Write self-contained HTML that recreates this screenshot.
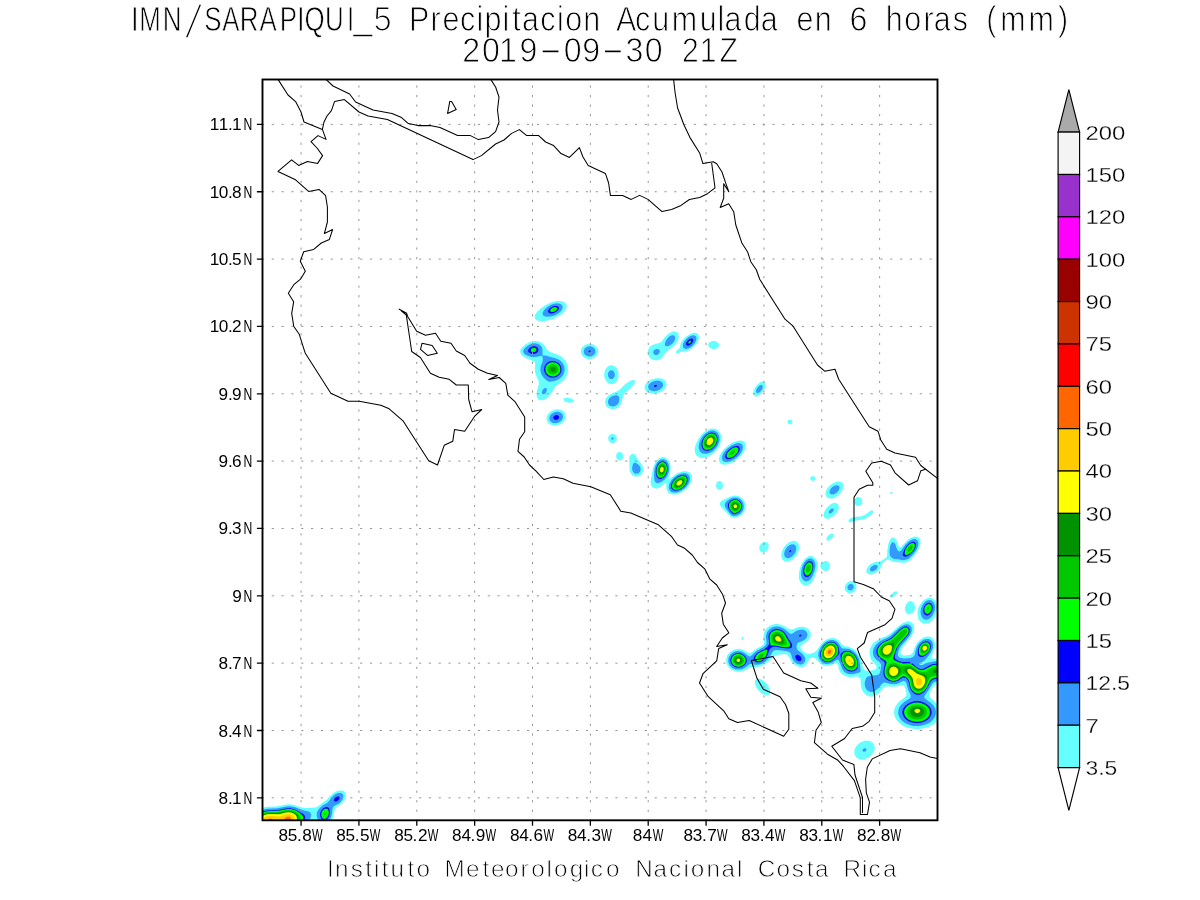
<!DOCTYPE html>
<html lang="es"><head><meta charset="utf-8"><title>IMN/SARAPIQUI_5 Precipitacion Acumulada en 6 horas (mm)</title>
<style>html,body{margin:0;padding:0;background:#fff;}svg{display:block;}text{font-family:"Liberation Sans", sans-serif;}.t1{font-size:35px;fill:#000;stroke:#fff;stroke-width:0.9px;vector-effect:non-scaling-stroke;}.ax{font-size:17.2px;fill:#000;}.cb{font-size:20.4px;fill:#000;stroke:#fff;stroke-width:0.3px;}.ft{font-size:24.3px;fill:#000;stroke:#fff;stroke-width:0.8px;}.coast{fill:none;stroke:#000;stroke-width:1.05;stroke-linejoin:round;stroke-linecap:round;}.grid{fill:none;stroke:#969696;stroke-width:1.0;}</style></head><body>
<svg width="1200" height="900" viewBox="0 0 1200 900">
<rect x="0" y="0" width="1200" height="900" fill="#fff"/>
<defs><clipPath id="plot"><rect x="262.5" y="79.5" width="675" height="740.8"/></clipPath></defs>
<g clip-path="url(#plot)">
<path fill="#66ffff" fill-rule="evenodd" d="M556.8 301.0L559.5 300.9L562.0 301.2L564.0 301.9L565.5 302.9L566.5 304.5L566.8 306.0L566.6 307.5L565.7 309.5L564.2 311.5L562.5 313.3L560.0 315.2L557.5 316.7L554.5 318.2L551.5 319.4L548.5 320.3L545.0 321.0L542.5 321.3L540.0 321.2L538.0 320.8L536.2 320.0L535.2 319.0L534.6 317.5L534.8 316.0L535.6 314.0L537.0 312.0L538.9 310.0L542.0 307.5L545.0 305.4L548.0 303.8L551.5 302.3L554.5 301.4ZM673.4 331.5L675.0 331.5L676.5 331.9L677.7 333.0L678.5 334.5L678.8 336.5L678.6 338.5L677.8 341.0L676.6 343.0L675.4 344.5L673.5 346.3L666.8 351.5L665.5 353.0L663.0 356.6L661.0 358.6L659.5 359.5L657.5 360.2L655.5 360.3L653.5 360.0L651.5 359.1L650.2 358.0L649.0 356.5L648.3 355.0L647.8 353.0L647.9 351.0L648.5 349.0L649.4 347.5L650.8 346.0L652.5 344.9L654.5 344.2L658.5 343.3L660.3 342.5L662.0 340.9L665.0 337.0L667.5 334.5L670.5 332.4L672.0 331.8ZM693.1 333.0L695.0 332.8L696.5 333.1L697.9 334.0L698.8 335.5L699.0 337.5L698.7 339.5L697.9 341.5L696.8 343.5L693.5 347.2L691.5 348.8L689.5 350.0L686.5 351.2L684.5 351.4L682.0 351.3L680.5 351.9L679.0 353.0L677.5 353.5L677.0 353.4L676.3 353.0L675.9 352.0L676.3 351.0L676.6 350.5L678.8 349.0L679.5 348.3L679.8 347.5L680.7 343.5L681.7 341.5L684.1 338.5L687.0 336.0L690.0 334.1ZM534.3 341.0L536.0 341.0L538.0 341.3L540.0 341.9L541.5 342.7L543.0 343.7L544.2 345.0L545.3 346.5L547.0 349.5L548.5 351.1L551.3 352.5L558.0 354.7L561.5 356.8L563.5 358.5L565.5 361.0L566.9 363.5L567.7 366.0L568.0 369.0L567.8 372.0L566.9 375.0L565.7 377.5L564.2 379.5L562.5 381.2L557.0 385.3L555.5 386.6L554.0 388.7L550.8 394.0L548.5 396.8L547.0 398.1L545.5 399.1L544.0 399.9L542.5 400.3L541.0 400.3L539.5 400.0L538.5 399.4L537.5 398.2L536.7 396.0L536.6 393.0L537.2 390.0L538.7 385.0L538.9 382.5L538.4 380.5L536.1 375.5L535.2 372.5L534.9 369.5L535.3 364.5L535.1 363.0L534.6 362.0L533.5 361.2L526.5 358.3L523.3 356.5L522.0 355.5L521.2 354.5L520.3 352.5L520.3 350.5L520.8 349.0L521.9 347.5L523.5 346.0L526.5 343.8L529.0 342.4L532.0 341.3ZM710.9 341.5L713.0 341.0L715.0 341.1L717.0 341.9L718.4 343.0L719.1 344.5L718.9 346.0L718.0 347.4L716.5 348.4L714.5 348.9L712.5 348.9L710.5 348.3L708.8 347.0L708.1 345.5L708.3 344.0L709.3 342.5ZM587.5 344.0L589.5 343.8L591.0 343.9L592.5 344.2L594.2 345.0L595.5 345.9L596.6 347.0L597.6 348.5L598.1 350.0L598.2 351.5L598.0 353.0L597.5 354.5L596.5 356.0L595.4 357.0L594.0 358.0L592.5 358.6L591.0 358.9L589.5 359.1L587.5 358.9L586.0 358.4L584.5 357.7L583.0 356.5L582.1 355.5L581.3 354.0L581.0 353.0L580.8 351.5L581.0 350.0L581.3 349.0L582.1 347.5L583.0 346.4L584.5 345.2L586.0 344.5ZM609.9 365.5L611.0 365.3L612.5 365.4L614.0 365.9L615.0 366.6L616.0 367.5L617.1 369.0L617.8 370.5L618.4 372.5L618.6 374.5L618.5 376.0L618.2 378.0L617.5 379.8L616.5 381.4L615.5 382.5L614.5 383.3L613.0 383.9L611.5 384.1L610.0 383.9L608.5 383.3L607.5 382.6L606.4 381.5L605.5 380.0L604.8 378.5L604.3 376.5L604.2 375.0L604.3 373.0L604.8 371.0L605.4 369.5L606.4 368.0L607.5 366.8L608.5 366.1ZM654.8 378.5L657.0 378.2L659.0 378.2L661.0 378.5L662.5 379.0L664.0 379.8L665.4 381.0L666.0 382.0L666.5 383.5L666.5 385.0L666.1 386.5L665.3 388.0L664.0 389.5L662.5 390.8L660.5 391.9L658.5 392.8L656.5 393.3L654.5 393.6L652.5 393.6L650.5 393.3L648.5 392.7L647.0 391.9L645.6 390.5L645.0 389.5L644.6 388.0L644.7 386.5L645.1 385.0L646.0 383.5L647.4 382.0L649.0 380.8L651.0 379.7ZM632.9 380.0L634.0 380.0L634.7 380.5L634.9 381.0L634.9 382.0L634.4 383.5L633.2 385.5L631.0 388.0L625.2 393.0L623.9 394.5L622.9 396.5L622.0 401.0L621.3 403.0L620.6 404.5L619.5 405.9L618.4 407.0L617.0 407.9L614.5 408.9L613.0 409.1L611.5 409.1L610.0 408.8L608.5 408.1L607.0 407.0L606.2 406.0L605.5 404.5L605.1 403.0L605.2 401.0L605.6 399.5L606.3 398.0L607.4 396.5L609.0 395.0L611.0 393.7L616.5 391.5L618.5 390.5L620.0 389.3L624.3 385.0L626.8 383.0L630.0 381.0L631.5 380.3ZM760.9 382.0L762.0 381.7L763.0 381.6L764.0 381.9L764.5 382.2L765.1 383.0L765.4 384.0L765.3 386.5L764.2 389.5L762.5 392.2L760.0 394.7L757.9 396.0L756.5 396.4L755.5 396.4L754.6 396.0L754.0 395.5L753.4 394.0L753.5 391.5L754.3 389.0L756.1 386.0L758.5 383.5ZM565.0 398.0L567.0 397.8L569.0 398.0L571.0 398.5L572.5 399.2L573.4 400.0L573.9 401.0L573.8 401.5L573.4 402.0L572.0 402.6L570.5 402.8L568.5 402.6L566.5 402.1L565.0 401.4L563.8 400.5L563.4 399.5L563.5 399.0L564.0 398.5ZM555.8 409.5L557.5 409.3L559.5 409.5L561.0 409.9L562.5 410.6L564.0 411.8L564.9 413.0L565.5 414.5L565.8 416.0L565.7 417.5L565.3 419.0L564.5 420.5L563.3 422.0L562.0 423.1L560.0 424.4L558.0 425.1L556.5 425.4L554.5 425.6L552.5 425.3L551.0 424.8L549.5 424.0L548.3 423.0L547.5 422.0L546.9 420.5L546.6 419.0L546.7 417.5L547.1 416.0L547.9 414.5L549.0 413.0L550.5 411.7L552.0 410.8L554.0 409.9ZM788.7 420.0L790.0 419.7L791.0 419.9L792.0 420.5L792.3 421.0L792.5 421.5L792.5 422.5L792.0 423.5L791.3 424.0L790.0 424.3L789.0 424.1L788.0 423.5L787.7 423.0L787.5 422.5L787.5 421.5L788.0 420.5ZM709.7 429.0L712.0 428.6L714.5 428.7L716.5 429.3L718.5 430.7L719.9 432.5L720.8 434.5L721.3 437.0L721.2 440.0L720.7 442.5L719.6 445.5L718.2 448.0L716.4 450.5L714.0 452.9L711.5 454.8L709.0 456.2L706.0 457.4L703.5 457.9L701.5 457.9L699.5 457.5L697.5 456.3L696.3 455.0L695.2 453.0L694.7 450.5L694.8 448.0L695.4 445.5L696.8 442.0L698.7 438.5L700.9 435.5L703.0 433.1L705.0 431.4L707.5 429.9ZM611.6 434.0L613.5 434.0L615.0 434.7L616.2 436.0L616.8 437.5L616.8 439.5L616.2 441.0L615.0 442.4L613.5 443.0L612.5 443.1L611.5 443.0L610.0 442.3L608.8 441.0L608.2 439.5L608.2 437.5L608.8 436.0L610.0 434.7ZM737.0 441.0L739.5 440.6L741.5 440.6L743.0 441.0L744.5 442.0L745.5 443.5L745.8 445.0L745.7 447.0L745.0 449.5L743.8 452.0L742.4 454.0L740.3 456.5L738.0 458.7L735.5 460.6L733.0 462.2L730.5 463.4L727.5 464.3L725.0 464.7L723.0 464.5L721.5 463.9L720.2 463.0L719.3 461.5L719.0 460.0L719.1 458.0L719.8 455.5L720.8 453.5L722.1 451.5L724.2 449.0L726.5 446.9L728.5 445.3L731.5 443.3L734.5 441.8ZM618.9 452.0L620.0 451.9L621.5 452.6L622.7 454.0L623.2 455.5L623.2 457.0L622.7 458.5L622.0 459.5L620.5 460.4L619.0 460.4L618.0 460.0L616.9 459.0L616.4 458.0L616.2 457.0L616.1 455.5L616.6 454.0L617.5 452.8ZM631.9 454.0L633.5 453.9L634.5 454.3L635.5 455.3L638.0 459.8L641.6 464.0L642.9 466.5L643.2 468.0L643.3 469.5L642.9 472.0L642.2 473.5L641.5 474.4L639.6 476.0L638.0 476.6L636.5 476.8L635.0 476.6L633.5 476.0L632.1 475.0L631.2 474.0L630.4 472.5L629.8 471.0L629.5 468.5L629.5 464.0L629.2 459.5L629.2 458.0L629.6 456.5L630.1 455.5L631.0 454.5ZM660.7 457.5L662.0 457.2L663.5 457.1L664.5 457.3L666.0 457.9L668.0 459.6L669.0 461.0L669.7 462.5L670.6 466.0L670.6 469.5L670.2 472.5L668.5 479.0L669.0 479.2L669.5 478.9L674.5 475.2L677.0 473.6L679.5 472.4L682.0 471.6L685.0 471.2L687.5 471.6L689.5 472.5L691.0 474.0L691.7 475.5L692.0 478.0L691.7 480.0L690.9 482.5L689.5 485.0L687.6 487.5L685.5 489.5L682.9 491.5L679.5 493.3L676.0 494.4L674.0 494.5L672.5 494.5L670.0 493.7L668.9 493.0L668.0 492.2L666.8 490.0L666.2 487.0L666.5 483.0L666.0 482.7L660.0 487.1L658.5 487.9L657.0 488.4L655.5 488.5L654.0 488.1L652.5 487.2L651.6 486.0L651.1 485.0L650.7 483.5L650.7 480.5L652.8 469.5L653.7 466.0L655.0 463.0L656.6 460.5L658.5 458.7ZM811.4 476.5L812.5 476.1L813.5 476.2L814.4 476.5L815.0 477.0L815.5 478.0L815.5 479.0L815.0 480.0L814.5 480.4L813.5 480.8L812.5 480.9L811.5 480.5L810.8 480.0L810.3 479.0L810.3 478.0L810.8 477.0ZM718.8 481.0L720.0 480.9L721.5 481.7L722.5 483.0L722.9 484.5L723.0 486.0L722.5 487.8L721.7 489.0L720.5 489.8L719.0 489.9L718.0 489.5L716.9 488.5L716.1 486.5L716.1 484.5L716.5 483.0L717.5 481.7ZM835.7 482.0L837.5 481.6L839.0 481.5L840.5 481.8L841.5 482.2L842.5 483.0L843.1 484.0L843.5 485.5L843.4 487.0L843.0 488.5L842.4 490.0L841.2 492.0L839.9 493.5L838.5 495.0L836.5 496.6L834.5 497.8L833.0 498.4L831.5 498.6L829.5 498.4L828.0 497.9L827.0 497.2L826.0 496.0L825.7 495.0L825.5 494.0L825.6 492.5L826.0 491.0L826.7 489.5L827.6 488.0L829.0 486.3L832.0 483.8L834.0 482.7ZM890.6 492.0L891.5 491.7L892.0 491.9L892.5 492.4L892.5 493.3L892.0 493.9L891.0 494.0L890.4 493.5L890.3 492.5ZM731.9 496.0L734.5 495.5L737.0 495.7L739.0 496.3L741.0 497.4L742.8 499.0L744.2 501.0L745.1 503.5L745.4 505.5L745.4 508.0L744.9 510.0L743.9 512.0L742.4 514.0L740.5 515.6L738.0 516.9L735.5 517.7L733.5 517.8L731.5 517.2L729.3 515.5L721.1 507.0L720.2 505.5L719.8 504.0L720.0 503.0L720.5 502.0L722.8 500.0L729.5 496.9ZM857.5 497.0L859.0 497.0L860.5 497.7L861.7 499.0L862.2 500.5L862.2 502.5L861.7 504.0L860.5 505.3L859.1 506.0L857.5 506.0L856.0 505.3L854.9 504.0L854.4 502.5L854.4 500.5L854.9 499.0L856.0 497.7ZM833.3 503.0L834.5 502.8L836.0 503.0L837.0 503.4L838.0 504.2L838.5 505.0L838.9 506.5L838.6 509.0L837.2 512.0L835.0 514.7L832.0 517.1L829.0 518.4L827.5 518.7L826.5 518.7L825.5 518.4L824.5 517.7L824.0 517.0L823.5 515.5L823.8 513.0L825.2 510.0L827.5 507.0L830.5 504.4L832.0 503.5ZM871.3 510.5L872.5 510.5L873.2 511.0L873.3 512.0L873.0 513.0L871.5 514.7L866.6 518.0L865.0 518.8L863.5 519.2L859.5 520.1L855.0 520.7L852.0 522.1L850.5 522.5L849.0 522.1L848.5 521.5L848.4 521.0L848.5 520.4L849.0 519.5L850.3 518.5L852.0 517.8L856.5 516.8L860.5 516.4L862.0 516.1L866.5 514.0L869.5 511.5ZM831.9 533.5L833.0 533.8L833.5 534.5L833.6 535.5L833.0 537.0L832.0 538.5L831.0 539.4L829.5 540.3L828.5 540.7L827.5 540.6L826.6 540.0L826.4 539.0L826.8 537.5L827.8 536.0L829.0 534.8L830.5 533.9ZM913.0 537.0L915.0 536.6L916.5 536.7L918.0 537.2L919.0 537.9L919.8 539.0L920.4 540.5L920.5 542.0L920.5 543.5L919.6 547.0L917.7 551.0L913.8 556.5L912.0 558.6L910.5 560.0L908.5 561.3L906.5 562.2L904.5 562.6L902.5 562.7L893.5 561.8L892.0 561.3L889.0 559.7L888.0 559.5L887.0 559.7L882.5 563.0L881.9 564.0L881.2 566.5L880.3 568.5L878.7 570.5L877.0 572.0L874.5 573.4L872.0 574.3L870.0 574.5L868.1 574.0L867.3 573.5L866.6 572.5L866.3 571.5L866.3 570.5L866.7 569.0L867.2 568.0L868.2 566.5L869.5 565.1L872.0 563.3L874.5 562.2L876.5 561.7L879.5 561.5L881.0 561.2L884.0 559.0L885.8 558.0L886.5 557.3L886.9 556.5L887.1 555.5L887.3 550.5L888.3 544.0L889.5 540.5L891.0 538.4L892.0 537.7L893.0 537.5L894.0 537.7L895.0 538.4L896.0 539.6L896.8 541.0L898.5 546.0L899.2 547.0L900.0 547.4L900.5 547.3L901.5 546.7L905.6 542.0L908.0 539.8L910.5 538.1ZM792.8 541.0L794.5 541.0L796.0 541.4L797.0 542.1L798.0 543.2L798.7 544.5L799.0 546.0L799.1 548.0L798.8 550.0L798.1 552.0L797.2 554.0L795.9 556.0L794.6 557.5L793.0 558.9L791.5 560.0L790.0 560.8L788.0 561.4L786.5 561.5L785.0 561.2L783.5 560.4L782.5 559.4L781.8 558.0L781.4 556.5L781.3 554.5L781.6 552.5L782.2 550.5L783.2 548.5L784.5 546.5L786.0 544.7L787.5 543.4L789.5 542.1L791.0 541.4ZM764.0 542.0L765.0 541.9L766.0 542.0L767.5 542.9L768.5 544.5L768.7 546.0L768.4 548.0L767.4 550.0L765.9 551.5L764.0 552.4L763.0 552.5L762.0 552.4L760.5 551.5L759.6 550.0L759.3 548.5L759.5 546.5L760.5 544.5L762.0 542.9ZM809.9 556.0L811.0 555.9L812.5 556.2L813.9 557.0L815.0 558.0L816.3 560.0L817.3 562.0L817.9 564.0L818.1 566.0L817.8 567.5L815.1 575.5L813.3 580.0L812.0 582.0L810.6 583.5L809.0 584.6L807.5 585.2L805.5 585.5L804.0 585.2L802.5 584.5L800.9 583.0L799.7 581.0L799.1 579.0L798.8 576.5L798.9 574.0L799.3 571.0L800.2 567.5L801.3 564.5L802.6 562.0L804.4 559.5L806.0 557.9L808.0 556.6ZM825.1 561.0L827.0 561.3L828.5 562.3L829.6 564.0L830.0 566.0L829.6 568.0L828.7 569.5L827.5 570.5L826.5 570.9L825.5 571.0L823.5 570.6L822.0 569.6L820.8 568.0L820.2 566.0L820.3 565.0L820.8 564.0L821.9 562.5L823.5 561.4ZM849.3 581.5L851.5 581.1L853.5 581.5L854.5 582.1L855.4 583.0L856.4 585.0L856.5 586.0L856.4 587.5L855.8 589.5L854.2 591.5L853.0 592.4L852.0 592.9L851.0 593.2L849.5 593.3L847.5 592.8L845.9 591.5L845.2 590.5L844.8 589.5L844.7 588.5L844.7 587.0L845.5 584.8L847.0 582.9L848.0 582.1ZM895.1 591.5L896.5 591.2L897.2 591.5L897.4 592.0L897.4 592.5L897.0 593.5L896.0 594.8L894.7 596.0L893.5 596.8L892.0 597.5L891.0 597.6L890.5 597.4L890.2 597.0L890.2 596.5L890.5 595.5L891.2 594.5L892.5 593.2L894.0 592.1ZM927.9 598.0L929.5 597.8L931.5 598.0L933.0 598.7L934.6 600.0L935.7 601.5L936.5 603.5L936.9 605.5L937.0 608.0L936.7 610.5L936.0 613.5L934.8 616.5L933.7 618.5L932.2 620.5L930.5 622.0L929.0 622.9L927.0 623.5L925.0 623.7L923.0 623.2L921.0 622.2L919.7 621.0L918.7 619.5L918.1 617.5L917.7 615.0L917.5 612.0L917.7 610.0L918.3 608.0L919.3 606.0L921.2 603.0L922.9 601.0L924.5 599.6L926.0 598.7ZM908.8 601.5L910.0 601.1L911.0 601.1L912.0 601.5L912.8 602.0L913.5 602.8L914.2 604.0L914.9 606.5L914.9 608.5L914.3 610.5L912.8 612.5L912.0 613.2L910.7 614.0L909.0 614.4L908.0 614.2L907.0 613.6L905.7 612.0L905.0 610.0L905.0 607.5L905.7 605.0L907.0 602.9L908.0 602.0ZM905.9 622.0L907.5 621.6L909.5 621.6L911.0 622.1L912.4 623.0L913.2 624.0L913.8 625.5L914.1 627.5L913.9 629.5L913.5 631.5L912.8 633.5L911.1 636.5L908.1 640.5L903.0 646.4L901.5 648.6L900.8 650.5L900.5 652.0L900.7 653.5L901.4 654.5L903.0 655.3L905.5 655.5L909.0 655.1L911.0 654.4L912.1 653.5L913.0 652.1L914.8 647.0L916.1 644.5L917.8 642.0L919.5 640.3L922.0 638.4L924.5 637.1L926.0 636.7L927.5 636.5L930.0 636.8L932.0 637.8L933.7 639.5L934.6 641.5L935.1 644.0L935.0 646.0L934.7 648.0L933.7 651.0L931.5 656.0L931.3 657.0L931.5 657.7L932.0 658.2L933.0 658.5L939.0 658.8L942.0 659.2L944.5 659.8L946.5 660.7L949.0 662.2L950.8 664.0L952.0 666.0L952.7 668.0L952.8 670.0L952.3 672.5L951.1 675.0L949.5 677.0L947.5 678.8L945.0 680.4L942.0 681.8L937.0 683.5L934.5 685.0L933.5 686.1L932.5 687.5L929.6 693.0L929.0 695.0L929.2 696.5L930.4 698.0L935.5 702.3L937.7 705.0L938.6 706.5L939.4 708.5L939.9 710.5L940.0 712.5L939.7 715.0L939.1 717.0L938.1 719.0L936.7 721.0L935.0 722.8L933.0 724.4L931.0 725.6L928.5 726.9L924.0 728.3L919.5 729.0L915.0 729.0L910.0 728.3L905.5 726.9L901.5 724.7L898.2 722.0L895.9 719.0L894.6 716.0L894.0 713.0L894.2 710.0L895.2 707.0L896.3 705.0L898.0 702.8L900.0 700.9L905.0 697.1L905.9 696.0L906.4 695.0L906.4 693.0L905.5 689.3L904.5 686.5L903.5 685.2L902.5 684.9L901.5 685.0L897.5 686.2L894.5 686.7L892.0 686.8L887.5 686.3L885.5 686.5L884.5 687.0L883.5 687.8L879.0 692.9L877.5 694.2L876.0 695.2L874.5 695.9L872.5 696.4L870.5 696.5L869.0 696.2L867.0 695.4L865.1 694.0L863.7 692.5L862.4 690.5L861.6 688.5L861.0 686.0L860.5 679.0L860.1 678.0L859.6 677.5L858.5 676.9L857.0 676.6L851.5 677.1L848.5 676.9L845.5 676.0L843.0 674.7L841.0 673.0L839.6 671.0L838.9 669.0L838.1 665.0L837.5 663.8L837.0 663.3L836.5 663.1L835.5 663.2L832.0 664.8L829.0 665.7L826.5 665.9L824.5 665.6L822.5 664.9L820.5 663.7L815.5 658.7L814.0 658.0L812.5 657.8L811.0 658.0L810.0 658.5L809.0 659.8L808.0 661.9L806.4 664.5L805.5 665.5L804.0 666.4L802.5 666.9L801.0 667.0L799.5 666.9L798.0 666.5L795.5 665.3L794.0 664.3L792.7 663.0L791.1 661.0L788.5 656.3L787.5 655.1L786.5 654.5L785.5 654.1L783.0 653.9L777.5 655.1L774.5 656.1L772.0 657.8L768.0 661.7L765.5 663.7L762.0 665.7L759.0 666.8L756.0 667.3L752.0 667.3L750.5 667.5L749.0 668.0L745.5 669.9L743.5 670.7L741.5 671.3L739.0 671.5L736.5 671.4L734.0 670.8L731.5 669.6L729.4 668.0L728.1 666.5L727.0 664.5L726.3 662.5L726.1 660.5L726.3 658.5L726.8 656.5L727.9 654.5L729.0 653.0L731.0 651.3L733.0 650.2L736.0 649.3L738.5 649.1L740.5 649.3L742.5 649.8L744.5 650.6L748.0 652.6L749.0 652.9L750.0 652.9L751.5 652.4L756.5 648.8L761.7 646.0L763.4 644.5L764.0 643.0L764.0 641.5L763.5 638.0L763.4 636.0L763.8 633.5L764.5 631.5L765.7 629.5L767.5 627.5L769.5 626.1L771.5 625.1L773.5 624.4L775.5 624.1L778.0 624.1L780.0 624.4L783.5 625.7L789.0 629.0L791.0 629.6L793.0 629.2L798.0 627.3L801.0 626.8L803.0 626.8L805.0 627.2L806.5 627.8L808.0 628.7L809.7 630.5L810.6 632.5L810.8 635.0L810.1 637.5L808.9 639.5L807.6 641.0L805.5 642.6L801.6 645.0L800.7 646.0L800.4 647.0L800.7 648.5L801.3 649.5L802.2 650.5L805.0 652.7L807.5 653.9L808.5 654.1L809.5 653.9L814.5 652.2L815.5 651.6L817.0 650.1L820.1 645.5L822.0 643.1L824.0 641.2L826.5 639.5L829.0 638.5L831.5 638.0L834.0 638.1L836.0 638.7L837.5 639.6L838.7 640.5L842.0 644.5L843.0 645.3L844.5 646.0L848.5 646.8L851.0 647.7L853.5 649.1L856.0 651.3L858.2 654.0L860.2 657.5L861.3 660.5L862.5 666.2L863.5 668.4L864.5 669.6L865.5 670.4L866.5 670.8L868.0 671.1L871.7 670.5L874.5 669.8L875.8 669.0L876.2 668.5L876.5 667.5L876.5 666.5L876.1 665.5L873.0 662.1L871.4 660.0L870.5 658.0L869.8 655.5L869.5 652.5L869.9 649.5L870.7 647.0L872.2 644.5L874.6 642.0L878.0 639.7L881.5 637.9L887.0 635.7L889.1 634.5L891.0 633.0L896.5 627.9L899.5 625.4L903.0 623.1ZM741.9 637.0L742.5 636.7L743.0 636.9L743.3 637.5L743.5 638.5L743.1 639.5L742.5 639.9L742.0 639.7L741.6 639.0L741.5 638.0ZM756.6 679.0L757.5 678.7L759.0 678.7L761.5 679.5L764.5 681.5L767.3 684.5L768.3 686.0L769.3 688.0L770.1 691.0L770.0 692.5L769.8 693.5L769.1 694.5L768.4 695.0L767.5 695.3L766.0 695.3L763.5 694.5L760.5 692.5L757.7 689.5L756.7 688.0L755.7 686.0L754.9 683.0L755.0 681.5L755.2 680.5L755.9 679.5ZM864.0 741.0L866.0 740.6L868.0 740.7L870.0 741.1L871.5 741.8L873.0 743.0L873.7 744.0L874.4 745.5L874.7 747.5L874.7 749.0L874.1 751.0L873.2 753.0L872.1 754.5L870.6 756.0L869.0 757.2L867.0 758.3L865.0 759.0L863.0 759.4L861.0 759.3L859.0 758.9L857.5 758.2L856.0 757.0L855.3 756.0L854.6 754.5L854.3 752.5L854.3 751.0L854.9 749.0L855.8 747.0L856.9 745.5L858.4 744.0L860.0 742.8L862.0 741.7ZM339.5 790.5L341.5 790.5L343.0 790.8L344.2 791.5L345.1 792.5L345.7 793.5L346.0 795.0L345.9 796.5L345.4 798.5L344.3 800.5L342.3 803.0L340.5 804.6L336.5 807.4L335.4 808.5L334.5 810.5L333.2 816.5L331.8 820.0L330.8 821.5L329.5 823.0L328.0 824.3L326.5 825.2L324.5 825.8L322.0 825.7L320.0 824.9L316.0 822.7L314.5 822.4L313.0 822.6L311.5 823.0L310.0 823.7L304.5 827.3L298.0 830.9L294.5 832.2L290.5 832.9L287.0 833.0L279.0 832.5L271.0 832.8L267.5 832.7L262.0 831.9L258.0 830.6L254.5 828.7L252.8 827.5L251.5 826.2L250.5 825.0L249.6 823.5L249.0 822.0L248.8 820.5L248.8 819.0L249.1 817.5L249.7 816.0L250.6 814.5L253.0 812.0L256.5 809.7L260.0 808.3L264.5 807.2L268.0 806.8L276.5 806.4L285.0 804.7L288.5 804.3L291.0 804.4L294.0 804.9L301.0 807.2L303.5 807.8L307.0 807.9L315.0 807.6L316.5 807.1L318.0 806.2L325.5 800.8L327.5 799.0L331.1 795.0L333.5 793.0L336.5 791.3Z"/>
<path fill="#3399ff" fill-rule="evenodd" d="M555.2 303.5L557.0 303.3L558.5 303.4L560.0 303.7L561.0 304.2L561.9 305.0L562.5 306.0L562.7 307.0L562.4 308.5L561.7 310.0L561.0 311.0L559.5 312.4L558.0 313.6L554.5 315.4L550.5 316.5L547.0 316.8L545.5 316.6L544.0 316.1L543.3 315.5L542.7 314.5L542.6 313.5L542.8 312.5L543.5 311.0L544.6 309.5L547.5 306.8L551.0 304.8L553.0 304.0ZM671.1 335.5L673.0 335.2L674.0 335.5L674.5 335.9L674.9 336.5L675.2 337.5L675.0 339.5L674.1 341.5L672.5 343.5L670.5 345.0L668.5 345.9L666.5 346.2L665.5 345.9L664.9 345.0L665.0 343.0L666.0 340.5L667.3 338.5L669.0 336.7ZM691.9 335.5L693.5 335.3L694.5 335.5L695.5 336.0L696.0 336.5L696.4 337.5L696.5 338.2L696.2 340.5L694.9 343.0L692.8 345.5L690.5 347.4L688.0 348.6L686.5 348.9L685.5 348.9L684.5 348.6L683.6 348.0L682.9 346.5L682.8 345.5L683.1 344.0L684.2 341.5L686.5 338.7L689.0 336.8L690.5 336.0ZM532.8 343.5L535.0 343.3L537.5 343.7L539.5 344.7L541.0 346.0L541.9 347.5L542.4 349.0L542.5 350.5L542.5 355.0L543.0 355.4L546.0 355.6L550.5 357.1L555.5 358.2L557.5 358.9L559.5 360.0L561.0 361.2L562.5 362.9L563.5 364.5L564.4 367.0L564.6 370.0L564.0 373.0L562.7 375.5L561.0 377.5L558.5 379.3L555.5 380.7L552.0 381.6L550.5 381.8L549.0 381.7L547.0 380.8L545.0 379.1L543.5 377.4L542.1 375.5L541.1 373.5L540.5 371.0L540.4 368.5L540.8 366.0L542.4 362.0L542.8 360.5L542.8 359.0L542.3 356.0L542.0 355.7L541.5 355.7L537.0 356.8L535.0 357.1L531.5 356.9L528.5 356.1L526.0 355.0L524.5 353.9L523.5 352.6L523.2 351.5L523.3 350.5L523.8 349.5L525.0 348.0L527.0 346.3L529.0 344.9L531.0 344.0ZM587.7 346.5L590.0 346.2L591.5 346.5L592.5 346.9L594.0 348.0L594.8 349.0L595.2 350.0L595.4 352.0L595.2 353.0L594.7 354.0L594.0 354.8L593.0 355.6L591.0 356.4L589.0 356.6L586.8 356.0L585.0 354.7L583.9 353.0L583.7 351.0L584.4 349.0L585.7 347.5ZM655.1 349.5L656.5 349.1L657.5 349.1L659.0 349.5L659.6 350.0L659.9 351.0L659.5 352.5L658.5 354.0L657.5 354.7L656.5 355.0L655.5 355.0L654.4 354.5L653.5 353.5L653.2 352.5L653.5 351.0L654.0 350.3ZM610.2 370.5L611.5 370.2L612.6 370.5L613.8 371.5L614.6 373.0L614.8 375.0L614.6 376.5L613.7 378.0L612.4 379.0L611.0 379.2L609.6 378.5L608.7 377.5L608.1 376.0L608.0 374.0L608.4 372.5L609.0 371.5ZM654.4 381.0L657.5 380.6L660.0 381.1L661.0 381.5L662.0 382.3L662.6 383.0L663.0 384.0L663.1 385.0L662.9 386.0L662.4 387.0L661.7 388.0L659.5 389.7L657.0 390.8L654.0 391.2L651.5 390.8L649.5 389.8L648.8 389.0L648.3 388.0L648.1 387.0L648.2 386.0L648.6 385.0L649.3 384.0L651.5 382.2ZM760.7 385.0L761.5 384.9L762.4 385.5L762.7 386.5L762.6 388.0L761.9 389.5L760.9 391.0L759.5 392.3L758.1 393.0L757.0 393.0L756.4 392.5L756.1 391.5L756.2 390.0L756.9 388.5L758.0 386.9L759.5 385.5ZM544.9 388.0L546.0 387.9L546.5 388.3L546.9 389.5L546.9 390.5L546.0 392.6L545.0 393.7L544.0 394.2L543.0 394.3L542.4 394.0L541.9 393.0L541.9 392.0L542.4 390.5L543.0 389.5L544.0 388.5ZM613.6 395.5L616.0 395.2L617.0 395.3L618.0 395.7L618.5 396.1L619.0 397.0L619.3 398.0L619.4 399.5L618.9 402.0L617.8 404.0L616.0 405.6L615.0 406.0L613.5 406.4L611.5 406.3L610.5 406.0L609.5 405.4L608.4 404.0L607.9 402.0L608.3 400.0L609.5 398.0L611.5 396.4ZM555.1 412.0L556.5 411.8L558.0 411.8L560.4 412.5L561.5 413.3L562.2 414.0L562.7 415.0L563.0 416.0L563.0 417.0L562.7 418.5L561.5 420.4L559.5 422.1L557.1 423.0L554.5 423.2L553.0 422.9L552.0 422.5L551.0 421.8L550.3 421.0L549.7 420.0L549.4 419.0L549.4 418.0L549.7 416.5L550.9 414.5L553.0 412.9ZM709.6 431.0L711.5 430.6L713.5 430.6L715.5 431.3L717.0 432.3L718.0 433.5L719.0 435.5L719.4 437.5L719.5 439.5L719.2 441.5L718.3 444.0L717.3 446.0L715.9 448.0L714.5 449.6L712.5 451.2L710.0 452.7L708.0 453.5L706.0 453.8L704.0 453.8L702.5 453.4L701.0 452.5L700.0 451.5L699.2 450.0L698.7 448.0L698.7 446.0L699.1 443.5L699.7 441.5L700.9 439.0L702.4 436.5L704.2 434.5L706.0 432.9L708.0 431.7ZM611.8 437.5L612.5 437.3L613.0 437.4L613.5 437.8L613.7 438.5L613.6 439.0L613.2 439.5L612.5 439.7L612.0 439.6L611.5 439.2L611.3 438.5L611.4 438.0ZM735.9 443.5L738.0 443.1L739.5 443.2L741.0 443.6L742.1 444.5L742.7 445.5L743.0 447.0L742.8 448.5L742.2 450.5L741.1 452.5L740.1 454.0L738.3 456.0L736.5 457.7L734.5 459.1L732.5 460.3L730.5 461.2L728.5 461.8L727.0 462.1L725.4 462.0L724.0 461.6L723.0 460.9L722.4 460.0L722.0 458.5L722.0 457.0L722.6 455.0L723.3 453.5L724.6 451.5L726.4 449.5L728.0 447.9L730.0 446.4L732.0 445.1L734.0 444.2ZM660.9 459.5L662.5 459.2L664.0 459.3L665.5 459.9L666.5 460.7L667.5 462.0L668.5 464.0L669.0 466.0L669.2 468.0L669.1 470.0L668.7 472.0L668.1 474.0L667.2 476.0L666.0 477.8L664.5 479.5L663.0 480.8L661.2 482.0L659.5 482.8L658.0 483.2L656.5 483.0L655.5 482.3L654.9 481.5L654.4 480.0L654.0 475.0L654.4 469.5L654.8 467.5L655.7 465.0L656.8 463.0L658.0 461.5L659.5 460.2ZM633.8 463.0L634.5 462.6L635.0 462.7L636.5 463.3L638.5 464.7L640.0 466.6L640.5 468.0L640.6 470.0L640.0 471.7L638.8 473.0L638.0 473.5L637.0 473.8L635.5 473.7L634.0 472.9L632.6 471.0L632.1 469.0L632.2 467.0L633.0 464.2ZM681.6 473.5L683.5 473.2L685.5 473.3L687.0 473.8L688.2 474.5L689.1 475.5L689.7 477.0L689.9 478.5L689.7 480.5L689.0 482.5L687.9 484.5L686.4 486.5L685.0 488.0L683.0 489.6L681.0 490.8L679.0 491.8L676.5 492.5L674.5 492.6L673.0 492.4L671.5 491.9L670.3 491.0L669.3 489.5L668.8 488.0L668.8 486.5L669.2 484.5L669.7 483.0L670.9 481.0L672.1 479.5L674.0 477.6L677.5 475.1L679.5 474.2ZM835.0 485.5L837.0 485.2L838.3 485.5L839.3 486.5L839.5 488.0L839.0 489.7L837.8 491.5L836.0 493.2L834.0 494.2L832.0 494.5L830.5 494.1L829.6 493.0L829.5 491.5L830.0 489.9L831.3 488.0L833.0 486.5ZM733.6 497.5L735.5 497.4L737.5 497.7L739.0 498.3L740.5 499.2L741.7 500.5L742.7 502.0L743.3 503.5L743.7 505.5L743.7 507.5L743.4 509.0L742.8 510.5L741.8 512.0L740.5 513.4L739.0 514.4L736.5 515.7L735.0 516.1L733.5 516.1L732.5 515.8L731.5 515.2L730.2 514.0L726.3 509.0L725.2 507.0L724.8 505.0L724.9 504.0L725.3 503.0L726.4 501.5L727.5 500.5L730.5 498.6L732.0 497.9ZM832.1 508.5L833.0 508.5L833.5 508.9L833.7 509.5L833.6 510.5L833.0 511.5L832.0 512.6L831.0 513.2L830.0 513.5L829.5 513.5L828.9 513.0L828.7 512.0L829.0 511.1L830.3 509.5L831.0 508.9ZM912.0 539.5L913.5 539.1L915.0 539.1L916.0 539.3L917.0 539.9L917.8 541.0L918.2 542.0L918.3 544.5L917.6 547.5L915.8 551.0L913.0 554.6L910.0 557.6L908.5 558.7L906.5 559.6L905.0 560.0L903.0 560.2L898.0 559.2L894.0 558.9L892.5 558.3L890.9 557.0L890.2 556.0L889.8 554.5L889.5 552.5L889.6 550.0L890.0 547.0L890.5 545.0L891.2 543.5L892.0 542.5L892.5 542.2L893.5 542.2L894.5 543.0L895.5 544.8L896.7 548.5L897.5 550.2L898.5 551.2L899.5 551.4L900.5 550.9L901.5 550.0L905.1 545.0L907.5 542.4L909.5 540.8ZM790.9 544.5L793.0 544.3L794.0 544.5L795.0 545.1L795.7 546.0L796.1 547.0L796.2 548.0L796.2 549.5L795.5 552.0L794.0 554.5L792.0 556.5L789.5 557.9L787.5 558.2L786.5 557.9L785.5 557.3L784.8 556.5L784.4 555.5L784.2 554.5L784.2 553.0L784.9 550.5L786.5 547.8L788.5 545.8ZM809.4 558.5L810.5 558.4L812.0 558.8L813.0 559.4L814.0 560.5L814.7 562.0L815.2 563.5L815.4 565.0L815.3 567.0L814.3 571.5L813.4 574.0L812.2 576.5L811.0 578.4L810.0 579.5L809.0 580.4L807.5 581.1L806.0 581.4L804.5 581.0L803.5 580.3L802.5 579.2L801.7 577.5L801.3 576.0L801.1 574.0L801.2 572.0L801.5 569.5L802.1 567.0L802.9 565.0L804.0 563.0L805.0 561.5L806.5 560.0L808.0 559.0ZM874.4 565.0L876.0 564.8L877.0 565.2L877.6 566.0L877.7 567.0L877.0 568.5L876.1 569.5L875.0 570.4L873.5 571.1L872.0 571.4L871.0 571.2L870.1 570.5L869.9 569.5L870.4 568.0L871.2 567.0L872.5 565.9ZM850.6 584.0L852.0 584.1L853.0 584.8L853.7 586.0L853.7 587.0L853.3 588.5L852.5 589.5L851.5 590.1L850.5 590.4L849.0 590.2L848.1 589.5L847.6 588.5L847.4 587.5L847.8 586.0L848.5 585.1L849.5 584.3ZM927.3 600.5L928.5 600.2L930.0 600.1L931.5 600.6L932.5 601.2L933.5 602.2L934.2 603.5L934.7 605.0L935.0 607.0L934.9 609.0L934.5 611.0L933.0 614.6L931.8 616.5L930.5 617.8L929.5 618.6L928.0 619.4L926.5 619.7L925.5 619.7L924.0 619.2L923.0 618.5L922.0 617.3L921.4 616.0L920.9 614.5L920.6 612.5L920.7 610.5L921.0 608.5L921.7 606.5L922.4 605.0L923.4 603.5L924.5 602.3L926.0 601.1ZM905.1 624.5L906.5 624.3L908.0 624.4L909.0 624.8L910.2 625.5L911.0 626.5L911.6 628.0L911.8 629.5L911.7 631.0L910.9 633.5L909.5 636.0L906.3 640.0L901.0 645.9L899.4 648.5L898.4 651.0L897.9 654.0L898.0 655.5L898.5 656.5L899.0 657.0L900.0 657.7L901.0 658.1L904.0 658.4L910.5 657.9L912.0 657.6L913.0 657.1L914.0 656.1L914.6 655.0L915.9 649.5L916.8 647.0L917.8 645.0L919.3 643.0L921.5 641.0L924.0 639.5L926.5 638.9L928.5 639.0L930.0 639.5L931.0 640.2L932.0 641.4L932.6 642.5L932.9 644.0L933.0 646.0L932.9 647.5L932.3 649.5L931.4 651.5L930.3 653.5L927.0 657.8L924.0 660.9L922.5 661.8L919.7 663.0L919.2 663.5L919.1 664.0L919.4 664.5L920.0 665.0L921.5 665.1L922.5 664.9L926.0 663.2L930.5 661.9L935.5 661.2L939.5 661.3L943.0 662.1L945.9 663.5L948.1 665.5L948.7 666.5L949.3 668.0L949.6 670.0L949.2 672.0L948.3 674.0L947.2 675.5L945.5 677.1L943.0 678.7L940.5 679.8L935.5 681.5L934.0 682.3L933.0 683.0L931.5 684.9L928.9 689.5L925.0 695.0L924.3 696.5L924.3 697.5L925.0 698.6L926.1 699.5L930.5 702.6L933.0 704.9L934.5 707.0L935.4 709.0L935.9 711.5L935.7 714.5L934.5 717.5L932.7 720.0L931.1 721.5L929.5 722.7L927.5 723.8L925.5 724.6L921.0 725.8L918.5 726.1L916.0 726.1L913.5 725.9L911.0 725.4L908.5 724.6L906.5 723.8L904.5 722.7L902.9 721.5L901.3 720.0L900.1 718.5L898.8 716.0L898.1 713.0L898.4 710.0L899.3 707.5L900.5 705.5L902.0 703.9L904.5 701.8L909.6 698.5L910.5 697.5L910.8 696.5L910.6 695.0L908.1 689.5L906.3 683.0L905.5 681.7L904.5 681.0L903.0 681.0L898.0 683.4L896.5 683.9L894.5 684.3L891.0 684.1L885.5 682.7L884.5 682.6L883.5 682.8L882.0 683.8L878.5 687.9L876.5 689.8L874.5 691.2L872.5 691.9L871.0 692.0L870.0 691.8L868.0 690.9L867.0 690.0L866.2 689.0L865.0 686.5L864.7 684.5L864.8 682.0L865.5 679.4L866.6 677.5L868.0 676.5L870.0 675.8L872.0 675.4L876.5 675.2L878.0 674.8L879.0 674.1L879.5 673.4L880.5 670.8L881.2 666.5L881.2 665.0L880.9 664.0L879.8 662.5L876.5 659.8L875.0 658.3L873.8 656.5L873.1 654.5L872.9 652.5L873.1 650.5L873.6 648.5L874.7 646.5L876.6 644.0L879.0 641.9L882.0 640.1L887.8 637.5L889.6 636.5L891.5 635.0L900.0 627.1L902.5 625.5ZM773.5 627.0L775.5 626.6L777.5 626.5L779.5 626.8L781.5 627.4L784.5 629.1L789.5 633.3L791.0 633.9L792.5 633.5L797.0 630.6L800.0 629.7L802.0 629.6L803.5 629.8L805.0 630.5L806.2 631.5L807.2 633.0L807.5 634.5L807.1 636.5L806.4 638.0L805.0 639.5L803.5 640.5L798.6 642.5L797.8 643.0L797.0 644.0L796.6 646.0L796.7 648.0L797.2 649.5L798.1 650.5L802.0 653.6L803.9 655.5L805.0 657.5L805.2 658.5L805.3 660.0L804.9 661.5L804.4 662.5L803.5 663.5L802.5 664.1L801.5 664.4L800.0 664.5L797.5 663.9L795.2 662.5L793.4 660.5L792.1 658.0L791.0 653.9L790.0 652.5L789.0 651.9L787.0 651.2L782.0 650.4L776.0 650.0L774.0 650.5L772.9 651.5L769.5 657.0L767.5 659.5L765.5 661.4L763.5 662.8L761.5 663.8L759.0 664.6L757.0 664.8L755.0 664.7L751.5 663.8L750.0 663.9L749.0 664.4L745.9 667.0L744.0 668.2L741.5 669.2L739.0 669.6L736.5 669.4L734.5 668.9L732.5 667.9L730.8 666.5L729.6 665.0L728.6 663.0L728.2 661.0L728.3 659.0L729.1 656.5L730.4 654.5L732.5 652.7L734.5 651.7L736.0 651.3L738.0 651.0L740.0 651.2L741.5 651.5L744.5 652.9L748.5 656.0L749.5 656.4L750.0 656.4L751.5 655.6L754.7 652.5L756.6 651.0L763.7 647.0L765.5 645.4L766.5 643.5L766.6 642.0L766.0 638.5L765.9 636.5L766.2 634.5L766.9 632.5L768.0 630.7L769.5 629.2L771.5 627.8ZM830.5 640.0L832.0 639.9L833.5 640.1L835.0 640.5L836.5 641.3L838.3 643.0L841.0 647.3L842.0 648.2L843.0 648.6L848.0 648.8L850.0 649.3L852.0 650.3L854.0 651.8L855.7 653.5L857.2 655.5L858.3 657.5L859.3 660.0L859.9 663.0L860.6 670.5L860.4 671.5L860.1 672.0L858.5 672.8L854.0 673.9L851.5 674.2L848.5 674.0L846.0 673.0L844.0 671.5L842.8 670.0L841.8 668.0L839.5 661.7L838.8 660.5L838.0 659.7L837.5 659.7L836.5 659.9L832.5 662.4L830.5 663.3L828.5 663.8L826.0 663.9L823.5 663.2L821.7 662.0L819.9 660.0L818.8 658.0L818.1 655.5L818.3 653.0L819.6 649.5L821.3 646.5L823.3 644.0L825.5 642.1L828.0 640.7ZM863.8 748.5L864.5 748.2L865.5 748.2L866.0 748.5L866.4 749.0L866.5 749.5L866.2 750.5L865.2 751.5L864.5 751.8L863.5 751.8L863.0 751.5L862.6 751.0L862.5 750.5L862.8 749.5ZM338.3 793.0L339.5 792.9L341.0 793.1L342.0 793.6L342.9 794.5L343.3 795.5L343.3 797.0L343.1 798.0L342.5 799.5L341.0 801.5L339.5 802.9L338.0 803.9L334.5 805.8L333.2 807.0L332.5 808.8L332.0 813.5L331.4 816.0L330.4 818.5L329.0 820.5L327.5 821.9L326.0 822.8L324.0 823.2L322.5 823.0L321.0 822.4L319.5 821.2L318.1 819.5L317.2 818.0L316.8 816.5L316.6 814.5L316.7 813.0L317.3 811.5L318.9 809.0L321.5 806.5L323.0 805.3L327.0 803.0L328.3 802.0L331.6 797.5L333.5 795.5L336.0 793.8ZM286.3 806.5L289.5 806.3L293.0 806.7L296.0 807.6L302.0 810.0L307.5 811.3L309.0 811.8L310.2 812.5L310.9 813.5L311.2 815.0L310.9 817.0L310.2 818.5L309.2 820.0L306.0 823.2L299.5 827.7L295.5 829.7L292.5 830.6L289.0 831.1L277.5 830.6L271.0 831.0L266.5 830.8L262.0 829.9L258.0 828.3L256.0 827.1L254.7 826.0L253.7 825.0L252.7 823.5L252.0 822.0L251.7 820.5L251.7 819.0L252.0 817.5L253.4 815.0L255.4 813.0L258.0 811.3L261.5 809.9L264.0 809.2L267.0 808.8L277.5 808.2Z"/>
<path fill="#0000ff" fill-rule="evenodd" d="M554.3 306.0L556.5 305.9L558.0 306.4L558.8 307.5L558.9 308.5L558.2 310.0L557.0 311.2L555.0 312.5L553.0 313.2L551.0 313.4L549.2 313.0L548.6 312.5L548.2 312.0L548.1 311.0L548.7 309.5L550.1 308.0L552.0 306.8ZM689.9 339.0L691.5 338.5L692.5 338.7L693.2 339.5L693.2 340.5L692.8 342.0L692.0 343.2L691.0 344.2L689.5 345.2L688.0 345.7L687.0 345.5L686.4 345.0L686.1 344.0L686.5 342.5L687.4 341.0L688.5 339.9ZM532.3 346.5L534.0 346.2L536.0 346.5L537.6 347.5L538.4 349.0L538.4 350.5L537.7 352.0L536.5 353.0L534.5 353.8L532.5 353.9L530.9 353.5L529.1 352.5L528.3 351.5L528.2 350.5L528.8 349.0L530.3 347.5ZM589.5 350.5L590.0 350.6L590.5 351.0L590.6 351.5L590.3 352.0L589.5 352.3L588.8 352.0L588.6 351.5L588.7 351.0ZM549.5 361.5L551.0 361.2L553.0 361.1L555.0 361.4L556.5 361.9L558.0 362.7L559.5 364.0L560.2 365.0L561.0 366.5L561.4 368.0L561.5 369.5L561.4 371.0L560.9 372.5L560.0 374.0L559.0 375.1L557.5 376.3L556.0 377.0L554.5 377.4L552.5 377.6L551.0 377.5L549.5 377.1L548.0 376.3L546.5 375.1L545.6 374.0L544.8 372.5L544.3 371.0L544.1 369.5L544.3 367.5L544.8 366.0L545.7 364.5L547.0 363.0L548.0 362.2ZM655.2 385.0L656.5 385.0L657.0 385.4L657.0 386.0L656.5 386.6L655.5 386.9L655.0 386.9L654.3 386.5L654.1 386.0L654.4 385.5ZM554.9 415.5L556.0 415.1L557.0 415.1L558.0 415.4L558.7 416.0L559.1 417.0L558.9 418.0L558.2 419.0L557.5 419.5L556.5 419.8L555.5 419.9L554.5 419.6L553.7 419.0L553.3 418.0L553.5 417.0L554.0 416.2ZM709.7 433.0L711.5 432.6L713.0 432.7L714.5 433.2L715.5 433.9L716.5 435.0L717.2 436.5L717.6 438.0L717.6 439.5L717.4 441.5L716.9 443.0L716.2 444.5L715.0 446.3L712.5 448.8L711.0 449.7L709.1 450.5L707.5 450.8L706.0 450.8L704.5 450.3L703.5 449.7L702.5 448.5L702.0 447.5L701.6 446.0L701.5 444.5L701.6 443.0L702.1 441.0L702.8 439.5L703.9 437.5L705.1 436.0L706.5 434.7L708.0 433.7ZM734.2 446.5L736.5 446.0L737.5 446.1L738.6 446.5L739.2 447.0L739.7 448.0L739.8 449.0L739.5 450.5L738.2 453.0L736.0 455.5L733.5 457.4L730.5 458.8L728.0 459.2L727.0 459.0L726.1 458.5L725.5 457.8L725.2 457.0L725.4 455.0L726.6 452.5L728.7 450.0L731.5 447.8ZM661.3 461.5L662.5 461.3L663.5 461.4L664.5 461.8L665.5 462.5L666.3 463.5L667.1 465.0L667.7 468.0L667.6 469.5L667.3 471.5L666.1 474.5L664.1 477.0L662.0 478.5L660.5 478.9L659.5 478.9L658.5 478.6L657.7 478.0L657.0 477.1L656.5 476.0L656.1 474.5L655.8 472.5L655.8 470.5L656.1 468.5L657.2 465.5L658.0 464.1L659.0 462.9L660.0 462.1ZM680.8 475.5L683.5 475.2L685.0 475.5L686.1 476.0L687.0 476.9L687.5 478.0L687.7 479.0L687.7 480.5L687.3 482.0L686.6 483.5L685.6 485.0L684.3 486.5L681.5 488.7L679.5 489.8L678.0 490.3L676.5 490.6L675.0 490.6L673.5 490.2L672.5 489.6L671.5 488.5L671.1 487.5L671.0 486.5L671.1 485.0L671.6 483.5L672.4 482.0L674.5 479.3L677.5 476.9L679.0 476.1ZM733.4 499.5L735.0 499.2L736.5 499.4L738.0 499.9L739.0 500.4L740.0 501.3L740.9 502.5L741.9 505.0L742.0 506.5L741.8 508.0L741.2 509.5L740.7 510.5L739.8 511.5L738.6 512.5L736.0 513.8L734.0 514.0L733.0 513.7L732.0 513.0L730.5 511.4L729.1 509.5L728.3 508.0L727.9 506.5L728.0 504.5L728.9 502.5L729.8 501.5L731.0 500.6ZM911.8 542.0L913.0 541.8L914.0 541.9L915.0 542.4L915.5 543.0L915.9 544.0L916.0 545.0L915.5 547.5L914.0 550.4L911.8 553.0L909.0 555.3L906.5 556.5L904.5 556.6L903.4 556.0L903.0 555.5L902.8 554.5L903.3 552.5L905.0 548.5L907.0 545.5L909.5 543.2ZM789.8 550.5L790.5 550.1L791.1 550.5L791.0 551.4L790.6 552.0L790.0 552.3L789.5 552.2L789.3 552.0L789.4 551.0ZM808.3 561.5L810.0 561.1L811.0 561.4L811.9 562.0L812.5 562.8L813.0 564.0L813.3 566.5L812.8 570.0L811.5 573.0L810.0 575.2L809.0 576.2L808.0 576.8L807.0 577.0L806.0 576.9L805.2 576.5L804.5 575.8L804.0 575.0L803.5 573.5L803.3 571.0L803.7 568.0L804.9 565.0L806.5 562.8ZM927.8 603.0L929.5 602.8L931.0 603.5L932.2 605.0L932.7 607.0L932.5 609.5L931.6 612.0L930.1 614.0L928.5 615.1L927.5 615.4L926.5 615.5L925.0 614.8L924.2 614.0L923.7 613.0L923.3 611.0L923.4 608.5L924.4 606.0L926.0 604.0ZM903.7 627.0L905.0 626.6L906.5 626.6L907.5 626.9L908.4 627.5L909.2 628.5L909.6 629.5L909.7 630.5L909.5 632.0L908.9 633.5L907.6 635.5L904.0 639.8L899.5 644.6L897.6 647.5L896.4 650.5L894.9 655.5L894.8 657.5L895.1 658.5L895.5 659.0L897.7 660.5L901.0 661.7L903.0 662.0L908.0 661.9L910.5 662.5L912.5 663.6L917.5 667.8L919.0 668.6L920.5 669.0L922.0 669.0L923.5 668.7L925.0 668.1L929.0 665.8L931.0 664.8L933.5 664.1L936.5 663.7L939.5 663.9L942.5 664.9L944.6 666.5L945.4 667.5L945.8 668.5L946.1 670.0L945.9 671.5L945.3 673.0L944.2 674.5L942.5 676.0L940.5 677.1L938.5 677.9L934.0 679.2L932.0 680.3L930.5 682.0L927.0 688.5L924.5 691.5L923.0 692.8L921.5 693.7L920.0 694.4L918.5 694.7L917.0 694.7L916.0 694.4L914.5 693.7L913.5 693.0L912.4 692.0L911.3 690.5L909.9 687.5L908.6 682.0L908.0 680.5L907.0 679.0L905.5 677.8L904.0 677.4L903.0 677.5L902.0 678.0L898.5 680.4L897.0 681.1L895.0 681.7L892.5 681.8L889.5 681.1L887.0 679.7L885.1 678.0L884.0 676.0L883.5 674.0L883.5 671.5L883.8 669.0L884.8 664.5L884.8 663.0L884.0 661.5L879.5 658.0L878.5 657.0L877.4 655.5L876.7 654.0L876.4 652.0L876.5 650.0L877.0 648.5L878.4 646.0L880.8 643.5L883.5 641.7L889.0 639.2L891.0 638.0L892.8 636.5L900.5 629.1L902.0 627.9ZM774.2 629.5L777.0 629.1L779.5 629.4L782.0 630.5L784.0 632.0L786.0 634.5L788.5 638.8L791.4 643.0L792.1 645.0L792.1 646.5L791.5 647.5L791.0 647.9L790.0 648.3L788.5 648.4L782.5 647.9L775.0 646.6L773.5 646.7L772.5 646.9L770.7 648.0L769.6 649.5L768.9 651.0L767.6 655.0L766.8 656.5L765.4 658.5L763.5 660.3L761.5 661.5L759.0 662.2L757.0 662.2L756.0 661.9L755.0 661.3L753.9 660.0L753.7 659.0L753.8 658.0L754.1 657.0L755.0 655.5L757.0 653.3L759.0 651.9L765.0 648.7L766.6 647.5L768.1 646.0L768.9 644.5L769.2 643.0L769.1 641.5L768.5 637.5L768.6 636.0L768.9 634.5L769.7 633.0L771.0 631.4L772.5 630.3ZM799.4 635.0L800.5 634.6L801.0 634.7L801.4 635.0L801.5 635.3L801.3 636.0L800.5 636.5L799.5 636.5L799.1 636.0L799.1 635.5ZM925.0 641.5L926.5 641.3L927.5 641.4L928.5 641.8L929.5 642.5L930.3 643.5L930.7 644.5L930.9 646.0L930.8 647.5L930.5 649.0L929.9 650.5L928.2 653.0L927.0 654.3L925.5 655.5L923.0 656.8L921.5 657.1L920.5 657.0L919.5 656.6L918.8 656.0L918.2 655.0L917.9 653.5L917.8 650.5L918.6 647.5L919.4 646.0L920.4 644.5L922.5 642.6ZM829.5 642.0L831.5 641.7L833.5 642.0L835.0 642.7L836.5 644.0L837.6 645.5L838.5 647.5L839.1 650.0L839.4 652.5L839.2 653.5L838.7 654.5L835.5 658.0L832.5 660.4L831.0 661.2L829.5 661.8L827.5 662.1L826.0 661.9L824.5 661.5L823.0 660.5L822.0 659.5L821.1 658.0L820.5 656.5L820.2 654.5L820.4 652.5L821.0 650.5L821.9 648.5L823.2 646.5L824.5 645.0L826.0 643.7L827.5 642.8ZM845.5 651.0L847.0 650.9L849.0 651.1L850.5 651.6L852.0 652.5L853.5 653.7L855.0 655.3L856.2 657.0L857.1 659.0L857.7 661.0L858.1 663.5L858.0 665.5L857.7 667.5L857.3 668.5L856.5 669.5L855.2 670.5L853.5 671.2L851.5 671.4L850.0 671.4L848.5 670.9L847.0 670.2L845.6 669.0L844.5 667.7L843.4 666.0L842.2 663.5L841.4 661.0L840.8 658.5L840.5 656.0L840.6 654.5L841.1 653.5L842.2 652.5L843.9 651.5ZM735.5 653.5L737.0 653.1L739.0 653.1L740.5 653.3L742.0 653.9L743.5 654.8L744.9 656.0L745.7 657.0L746.5 658.5L746.7 659.5L746.8 661.0L746.4 662.5L745.9 663.5L744.0 665.6L742.5 666.6L741.0 667.2L739.5 667.5L738.0 667.6L736.5 667.4L735.0 666.9L733.5 666.1L732.5 665.2L731.5 664.0L731.0 663.0L730.5 661.5L730.4 660.0L730.6 658.5L731.0 657.5L731.9 656.0L732.9 655.0L734.0 654.2ZM796.3 655.0L797.5 654.8L798.5 655.0L800.0 655.9L801.0 657.0L801.5 658.2L801.5 659.5L801.0 660.5L800.5 660.9L799.5 661.2L798.0 660.8L797.0 660.2L796.0 659.1L795.5 658.0L795.4 656.5L795.7 655.5ZM916.0 701.0L918.5 701.0L921.0 701.6L924.0 702.7L926.5 704.1L928.5 705.7L930.1 707.5L931.1 709.5L931.6 711.5L931.5 713.5L930.9 715.5L929.8 717.5L928.4 719.0L926.4 720.5L924.0 721.7L921.5 722.5L918.5 722.9L915.5 722.9L912.5 722.5L910.0 721.7L907.5 720.4L905.5 718.9L903.9 717.0L902.9 715.0L902.4 713.0L902.5 711.0L903.1 709.0L904.3 707.0L905.7 705.5L908.0 703.8L910.5 702.5L913.5 701.5ZM337.2 796.5L338.0 796.4L339.0 796.7L339.6 797.5L339.5 798.5L339.0 799.5L338.0 800.5L337.0 801.2L336.0 801.5L335.0 801.5L334.2 801.0L334.0 800.5L334.1 799.5L334.6 798.5L335.4 797.5ZM324.7 807.5L326.5 807.0L327.5 807.1L328.3 807.5L329.0 808.3L329.4 809.0L329.8 811.5L329.6 814.5L328.7 817.0L327.1 819.0L325.4 820.0L324.5 820.2L323.5 820.1L322.5 819.7L321.7 819.0L320.7 817.5L320.1 815.0L320.4 812.5L321.3 810.5L323.0 808.5ZM285.9 808.5L290.0 808.3L293.5 808.9L297.0 810.4L302.4 813.5L304.3 815.0L305.1 816.5L305.1 818.0L304.4 820.0L302.3 822.5L299.0 825.3L296.0 827.3L293.5 828.3L291.0 828.9L288.5 829.2L280.0 828.7L274.5 829.0L270.0 829.2L266.0 828.9L262.0 827.9L259.0 826.5L256.6 824.5L255.7 823.5L254.9 822.0L254.6 821.0L254.5 819.5L254.8 818.0L255.2 817.0L256.6 815.0L258.4 813.5L261.0 812.1L263.5 811.2L266.0 810.7L268.5 810.4L278.0 810.1Z"/>
<path fill="#00ff00" fill-rule="evenodd" d="M553.0 307.5L554.5 307.1L555.5 307.1L556.5 307.4L557.1 308.0L557.1 309.0L556.6 310.0L555.5 311.0L554.5 311.5L553.0 312.0L551.5 312.0L550.5 311.6L550.1 311.0L550.2 310.0L550.8 309.0L552.0 308.0ZM689.4 341.0L690.5 340.6L691.1 341.0L691.0 342.0L690.0 343.2L689.0 343.6L688.5 343.5L688.2 343.0L688.5 342.0ZM532.6 348.0L534.0 347.7L535.0 347.9L536.0 348.5L536.3 349.0L536.5 350.0L536.1 351.0L535.5 351.6L534.5 352.1L533.0 352.3L532.0 352.0L531.1 351.5L530.7 351.0L530.6 350.5L530.8 349.5L531.5 348.6ZM550.6 362.5L552.0 362.2L553.5 362.2L555.0 362.5L556.5 363.1L557.9 364.0L558.9 365.0L559.6 366.0L560.2 367.5L560.4 370.0L560.1 371.5L559.5 372.7L558.6 374.0L557.5 374.9L555.0 376.2L553.5 376.4L552.0 376.4L549.5 375.7L548.3 375.0L547.2 374.0L546.4 373.0L545.7 371.5L545.4 370.0L545.4 368.5L545.7 367.0L546.2 366.0L547.0 364.8L548.0 363.8L549.3 363.0ZM710.6 433.5L712.0 433.4L713.5 433.7L714.5 434.2L715.5 435.0L716.2 436.0L716.8 437.5L717.0 439.0L716.9 440.5L716.0 443.5L715.2 445.0L714.0 446.5L711.5 448.6L710.0 449.3L708.5 449.8L707.0 449.8L706.0 449.7L705.0 449.3L703.9 448.5L703.1 447.5L702.6 446.0L702.4 444.5L702.4 443.0L703.3 440.0L704.1 438.5L705.1 437.0L707.5 434.8L709.0 434.0ZM734.3 447.5L735.5 447.3L736.5 447.3L737.3 447.5L737.9 448.0L738.2 448.5L738.4 449.5L738.1 451.0L737.1 453.0L735.3 455.0L733.0 456.7L731.0 457.6L729.0 458.0L728.0 457.8L727.4 457.5L726.7 456.5L726.6 455.5L726.7 454.5L727.7 452.5L729.5 450.4L732.0 448.5ZM660.8 462.5L662.0 462.1L663.0 462.1L664.0 462.4L664.9 463.0L665.8 464.0L666.4 465.0L667.0 467.5L666.9 470.5L666.1 473.0L664.5 475.6L662.5 477.2L660.5 477.8L659.5 477.7L658.5 477.2L657.8 476.5L657.2 475.5L656.7 474.0L656.5 472.5L656.5 469.5L657.3 466.5L658.9 464.0L660.0 463.0ZM681.7 476.0L683.0 475.9L684.5 476.2L685.5 476.7L686.3 477.5L686.8 478.5L686.9 479.5L686.9 480.5L686.5 482.0L685.2 484.5L682.9 487.0L680.0 488.9L678.5 489.5L677.0 489.8L675.5 489.9L674.5 489.7L673.5 489.2L672.7 488.5L672.1 487.5L671.8 486.5L671.8 485.5L672.2 484.0L672.8 482.5L673.8 481.0L676.0 478.7L679.0 476.8ZM734.5 500.0L736.0 500.0L737.0 500.2L738.0 500.6L739.2 501.5L740.1 502.5L740.7 503.5L741.1 504.5L741.3 506.0L740.9 508.5L739.8 510.5L738.0 512.0L735.5 513.0L734.5 513.1L733.5 512.9L732.5 512.3L731.5 511.4L730.3 510.0L729.4 508.5L728.9 507.0L728.8 506.0L729.1 504.0L729.6 503.0L730.4 502.0L732.5 500.6ZM911.9 543.0L913.5 543.0L914.3 543.5L914.6 544.0L915.0 545.5L914.6 547.5L913.7 549.5L912.0 551.7L910.0 553.5L908.0 554.6L907.0 554.9L906.0 555.0L905.0 554.4L904.7 554.0L904.6 553.0L905.1 550.5L906.2 548.0L908.0 545.5L910.0 543.8ZM808.4 562.5L810.0 562.3L811.3 563.0L812.2 564.5L812.5 566.5L812.3 569.0L811.4 571.5L810.0 573.7L808.5 575.0L807.0 575.4L806.0 575.2L805.5 574.8L804.5 573.2L804.1 571.0L804.5 568.0L805.5 565.5L807.0 563.5ZM927.1 604.5L928.5 604.0L930.0 604.3L931.2 605.5L931.7 607.0L931.6 609.0L931.0 610.9L930.0 612.4L928.6 613.5L927.5 613.9L926.0 613.6L925.0 612.6L924.4 611.0L924.3 609.0L924.9 607.0L925.9 605.5ZM904.8 627.5L906.5 627.5L907.5 628.0L908.1 628.5L908.6 629.5L908.8 630.5L908.5 632.5L907.8 634.0L906.7 635.5L903.0 639.8L899.0 644.0L897.0 646.9L896.0 649.3L893.4 657.0L893.2 658.5L893.5 659.4L894.0 659.9L896.9 661.5L901.0 663.1L903.0 663.4L908.0 663.2L910.5 663.8L913.0 665.3L917.5 668.8L919.0 669.6L920.5 670.0L922.5 670.1L924.5 669.6L931.5 665.8L933.5 665.1L936.0 664.7L938.5 664.8L941.1 665.5L943.0 666.7L943.7 667.5L944.3 668.5L944.7 670.0L944.5 671.5L943.8 673.0L943.1 674.0L941.5 675.4L940.0 676.2L938.0 677.0L933.0 678.5L931.2 679.5L929.7 681.5L926.8 687.5L924.5 690.4L922.0 692.3L920.5 693.0L919.0 693.4L916.5 693.3L915.0 692.7L914.0 692.1L912.0 690.0L911.1 688.5L910.5 687.0L909.4 682.0L908.7 680.0L907.5 678.3L905.5 676.7L904.0 676.2L903.0 676.3L902.0 676.7L899.0 679.0L897.0 680.2L895.0 680.8L893.0 680.9L890.5 680.4L888.0 679.1L886.2 677.5L885.0 675.5L884.5 673.0L884.5 670.5L885.0 668.0L886.4 663.5L886.4 662.0L886.0 661.3L885.1 660.5L880.5 657.5L878.7 655.5L877.9 654.0L877.5 652.0L877.7 650.0L878.1 648.5L879.5 646.0L882.0 643.6L884.0 642.3L889.3 640.0L891.5 638.7L893.0 637.4L901.1 629.5L903.0 628.2ZM774.4 630.5L777.0 630.1L778.5 630.2L780.0 630.6L782.5 632.0L784.0 633.5L785.0 634.9L789.7 643.0L790.1 644.0L790.3 645.0L790.0 646.0L789.0 646.9L787.5 647.2L785.5 647.3L781.0 646.8L775.0 645.6L771.0 645.5L770.5 645.1L769.5 638.0L769.7 635.5L770.2 634.0L771.3 632.5L772.5 631.5ZM830.3 642.5L832.0 642.4L833.5 642.8L835.0 643.6L836.0 644.5L837.1 646.0L837.7 647.5L838.2 649.5L838.3 651.5L838.0 653.0L837.4 654.5L835.1 657.5L833.5 659.0L832.0 660.0L830.5 660.8L829.0 661.2L827.0 661.4L825.5 661.1L824.0 660.4L823.0 659.6L822.1 658.5L821.4 657.0L821.0 655.5L820.9 653.5L821.2 652.0L821.8 650.0L822.8 648.0L824.0 646.3L825.5 644.8L827.0 643.7L828.5 643.0ZM924.5 642.5L926.5 642.2L927.5 642.4L928.5 643.0L929.7 644.5L930.1 646.5L929.8 649.0L928.9 651.0L927.0 653.2L924.5 655.0L923.0 655.5L922.0 655.7L921.0 655.5L920.1 655.0L919.5 654.4L919.0 653.4L918.7 651.0L919.2 648.0L920.5 645.5L922.0 643.8L923.0 643.2ZM766.4 649.5L767.0 649.5L767.3 650.0L767.0 652.5L766.2 655.5L764.7 658.0L763.0 659.6L761.0 660.7L759.0 661.2L757.0 661.0L755.6 660.0L755.1 658.5L755.4 657.0L756.5 655.0L758.0 653.6L759.6 652.5L762.5 651.1ZM845.2 652.0L847.0 651.7L848.5 651.8L850.0 652.2L851.5 653.0L853.0 654.1L854.4 655.5L856.3 658.5L856.8 660.0L857.3 662.0L857.4 664.0L857.2 666.0L856.7 667.5L856.0 668.5L855.0 669.4L853.9 670.0L852.5 670.4L851.0 670.5L849.5 670.3L848.0 669.7L846.5 668.7L845.5 667.7L844.5 666.4L843.4 664.5L842.4 662.0L841.9 660.0L841.6 658.0L841.7 656.0L842.2 654.5L842.9 653.5L844.0 652.6ZM736.5 654.0L738.0 653.8L739.5 653.9L742.0 654.7L743.2 655.5L744.2 656.5L744.9 657.5L745.6 659.0L745.7 660.0L745.6 661.5L744.8 663.5L743.0 665.3L741.9 666.0L740.5 666.5L739.0 666.8L737.5 666.8L735.0 666.1L734.0 665.5L732.9 664.5L732.1 663.5L731.5 662.0L731.2 661.0L731.3 659.5L731.7 658.0L732.2 657.0L733.0 656.0L734.0 655.1L735.1 654.5ZM916.3 702.5L918.5 702.6L921.0 703.0L923.5 704.0L925.5 705.0L927.3 706.5L928.6 708.0L929.4 709.5L929.9 711.5L929.9 713.5L929.4 715.0L928.3 717.0L926.8 718.5L925.0 719.8L923.0 720.7L920.5 721.4L918.0 721.8L915.5 721.7L913.0 721.3L910.5 720.5L908.5 719.5L906.6 718.0L905.4 716.5L904.6 715.0L904.1 713.0L904.1 711.0L904.6 709.5L905.8 707.5L907.2 706.0L909.0 704.8L911.5 703.5L914.0 702.8ZM287.6 809.0L291.0 809.1L294.5 810.0L298.0 811.8L301.6 814.5L302.8 816.0L303.3 817.5L303.3 818.5L303.0 819.5L301.7 821.5L299.3 824.0L297.0 825.8L294.5 827.2L292.0 828.0L288.5 828.5L279.5 828.0L271.5 828.5L267.5 828.4L264.0 827.8L261.0 826.7L258.3 825.0L256.5 823.0L255.8 821.5L255.6 820.5L255.6 819.0L255.8 818.0L256.9 816.0L258.4 814.5L260.0 813.4L262.0 812.5L264.5 811.7L269.0 811.0L278.0 810.8L285.0 809.4ZM324.4 809.0L326.0 808.5L327.0 808.7L327.5 809.0L328.3 810.0L328.8 811.5L328.8 813.5L328.3 815.5L327.1 817.5L325.9 818.5L324.5 818.9L323.0 818.4L322.0 817.4L321.3 815.5L321.3 813.5L322.0 811.5L323.0 810.0Z"/>
<path fill="#00c800" fill-rule="evenodd" d="M551.4 364.5L553.5 364.3L555.5 364.9L557.0 366.0L558.0 367.5L558.3 369.5L557.8 371.5L556.6 373.0L554.9 374.0L553.0 374.4L550.9 374.0L549.9 373.5L549.0 372.7L547.9 371.0L547.6 369.0L548.2 367.0L549.5 365.5ZM709.9 435.0L712.0 434.8L713.0 435.0L714.0 435.6L714.8 436.5L715.4 437.5L715.7 438.5L715.7 440.0L715.2 442.5L713.8 445.0L712.0 446.7L711.0 447.4L709.5 448.0L707.5 448.2L706.5 448.0L705.5 447.4L704.4 446.0L704.0 445.0L703.8 443.5L704.2 441.0L705.5 438.4L707.5 436.3L708.5 435.6ZM732.8 450.5L733.5 450.3L734.5 450.3L735.0 450.7L735.1 451.5L734.7 452.5L734.0 453.4L733.0 454.3L732.0 454.8L731.0 455.0L730.5 454.9L730.0 454.5L729.9 453.5L730.4 452.5L731.0 451.8ZM660.8 464.0L662.5 463.6L664.0 464.1L665.3 465.5L665.9 467.5L666.0 469.5L665.4 472.0L664.5 473.7L663.0 475.2L662.0 475.8L661.0 476.0L659.5 475.6L658.5 474.5L657.7 472.5L657.5 470.0L658.1 467.5L659.1 465.5L660.0 464.6ZM680.5 477.5L682.5 477.3L683.5 477.5L684.4 478.0L685.0 478.6L685.4 479.5L685.4 481.5L684.2 484.0L682.5 486.0L680.5 487.4L678.0 488.4L676.0 488.5L674.5 487.9L674.0 487.4L673.5 486.5L673.3 485.5L673.4 484.5L674.1 482.5L676.0 480.1L678.0 478.6ZM733.8 501.5L735.5 501.3L737.5 501.9L738.9 503.0L739.7 504.5L740.0 506.5L739.6 508.5L738.5 510.0L737.0 511.0L735.0 511.5L733.5 511.1L732.5 510.4L731.6 509.5L730.5 507.5L730.3 505.5L730.8 504.0L732.0 502.5ZM910.1 546.0L911.0 545.6L912.0 545.6L912.5 546.1L912.6 547.0L912.4 548.0L912.0 549.0L911.0 550.2L910.0 551.0L909.0 551.5L908.0 551.4L907.6 551.0L907.5 550.0L908.0 548.5L908.5 547.6ZM808.2 565.0L809.0 564.7L810.0 565.0L810.5 565.6L810.8 567.0L810.7 568.5L810.2 570.0L809.5 571.2L808.5 572.1L807.5 572.4L806.7 572.0L806.1 571.0L805.9 570.0L806.0 568.5L806.5 567.0L807.1 566.0ZM927.5 608.0L928.0 607.6L928.5 607.7L928.8 608.0L928.9 608.5L928.4 609.5L928.0 609.7L927.4 609.5L927.3 609.0ZM903.9 629.5L905.5 629.3L906.1 629.5L906.7 630.0L906.9 630.5L907.1 631.5L906.6 633.0L905.0 635.2L901.5 639.1L897.6 643.0L896.5 644.5L895.5 646.5L893.2 653.0L891.5 656.0L890.0 657.6L888.5 658.3L886.5 658.4L883.8 657.5L882.5 656.7L881.1 655.5L880.3 654.5L879.7 653.0L879.4 651.5L879.5 650.0L879.9 648.5L881.0 646.6L882.5 645.0L884.5 643.6L890.8 641.0L893.0 639.7L901.1 631.5L902.5 630.3ZM776.0 632.0L777.5 631.9L779.0 632.2L780.5 632.9L781.5 633.5L782.5 634.5L783.6 636.0L785.9 640.5L786.8 643.0L786.7 644.0L786.4 644.5L785.7 645.0L785.0 645.2L782.0 645.4L779.0 645.0L774.5 643.8L773.0 643.1L772.2 642.0L771.7 640.5L771.3 638.5L771.3 637.0L771.6 635.5L772.5 634.0L773.5 633.1L774.5 632.5ZM828.8 644.0L830.0 643.7L831.5 643.6L833.0 643.9L834.2 644.5L835.3 645.5L836.0 646.5L836.7 648.0L837.0 649.5L837.0 651.0L836.7 652.5L835.7 655.0L833.5 657.6L832.0 658.8L830.5 659.6L829.0 660.1L827.5 660.2L826.0 660.0L825.0 659.6L824.0 658.8L823.0 657.6L822.5 656.5L822.1 655.0L822.0 653.5L822.2 652.0L822.8 650.0L823.6 648.5L824.7 647.0L826.0 645.6L827.5 644.6ZM924.0 644.0L925.0 643.7L926.0 643.7L927.5 644.4L928.4 645.5L928.9 647.0L928.6 649.0L927.9 650.5L926.5 652.0L925.0 652.9L923.5 653.4L922.0 653.2L921.0 652.4L920.5 651.5L920.3 650.5L920.4 648.5L921.1 646.5L922.3 645.0ZM845.7 653.5L847.0 653.1L848.0 653.1L849.5 653.4L850.9 654.0L852.0 654.7L853.4 656.0L855.0 658.5L856.0 661.5L856.2 663.0L856.1 664.5L855.6 666.0L855.1 667.0L854.1 668.0L853.1 668.5L852.0 668.8L850.5 668.8L849.0 668.4L848.0 667.9L846.0 666.2L844.2 663.5L843.2 660.5L843.0 657.5L843.4 656.0L843.9 655.0L844.9 654.0ZM761.1 654.0L762.0 653.7L763.0 653.8L763.5 654.2L763.6 655.0L763.3 656.0L762.7 657.0L761.7 658.0L760.7 658.5L759.5 658.7L758.7 658.5L758.2 658.0L758.1 657.0L758.5 656.0L759.0 655.4L760.0 654.6ZM736.4 655.5L738.5 655.2L740.5 655.6L741.5 656.1L742.5 656.9L743.6 658.5L744.0 660.5L743.5 662.4L742.2 664.0L740.5 665.0L738.5 665.4L737.0 665.3L736.0 664.9L735.0 664.4L734.0 663.5L733.1 662.0L732.8 660.0L733.4 658.0L734.6 656.5ZM890.8 663.0L892.5 662.7L895.0 663.1L897.0 663.8L901.0 665.8L902.0 666.1L903.5 666.0L907.5 665.2L910.0 665.6L912.5 666.8L918.0 670.8L920.0 671.6L922.0 672.0L924.5 672.0L926.5 671.5L928.0 670.6L931.5 668.1L934.0 667.1L935.5 666.8L937.0 666.7L939.5 667.3L941.1 668.5L941.8 670.0L941.7 671.5L940.8 673.0L939.5 674.1L937.8 675.0L936.0 675.5L932.0 676.3L930.5 677.0L929.1 678.5L928.0 681.2L926.8 684.5L925.9 686.5L924.5 688.4L923.0 689.9L921.0 691.1L919.0 691.6L917.0 691.5L915.5 691.0L913.6 689.5L912.2 687.5L911.5 685.5L910.5 680.5L909.5 678.5L907.5 676.2L906.0 675.0L904.5 674.1L903.0 673.8L902.0 674.1L897.6 678.0L896.0 678.8L894.5 679.2L892.5 679.2L891.0 678.8L889.4 678.0L888.0 676.8L887.0 675.4L886.3 673.5L886.1 671.5L886.3 669.5L886.9 667.5L888.0 665.5L889.5 663.8ZM915.2 705.0L917.0 704.9L919.0 705.0L921.0 705.5L922.5 706.0L924.0 706.9L925.3 708.0L926.1 709.0L926.7 710.5L926.9 712.0L926.7 713.5L926.1 715.0L925.5 716.0L924.0 717.4L922.5 718.3L921.0 718.9L919.0 719.3L917.0 719.5L915.0 719.3L913.0 718.9L911.5 718.3L910.0 717.4L908.5 716.0L907.9 715.0L907.3 713.5L907.1 712.0L907.4 710.5L908.1 709.0L908.9 708.0L910.1 707.0L911.5 706.1L913.5 705.4ZM285.4 810.5L288.5 810.1L291.5 810.4L294.5 811.4L297.1 813.0L299.2 815.0L300.3 817.0L300.5 818.0L300.5 819.0L300.2 820.0L299.4 821.5L297.7 823.5L295.8 825.0L293.5 826.3L291.5 826.9L289.5 827.2L287.5 827.3L279.0 826.8L273.5 827.3L270.0 827.5L266.5 827.2L263.5 826.4L260.6 825.0L259.4 824.0L258.5 823.0L257.5 821.0L257.4 819.0L258.2 817.0L259.5 815.5L261.0 814.4L263.0 813.4L265.5 812.6L269.5 812.1L276.0 812.2L278.5 812.0ZM325.2 812.5L325.5 812.5L326.0 813.0L326.1 813.5L325.8 814.5L325.2 815.0L324.5 814.9L324.2 814.0L324.5 812.9Z"/>
<path fill="#009200" fill-rule="evenodd" d="M551.6 367.0L553.0 366.7L554.0 366.8L555.0 367.4L555.5 368.0L555.8 369.0L555.7 370.0L555.2 371.0L554.5 371.6L553.5 371.9L552.5 371.9L551.4 371.5L550.5 370.6L550.2 369.5L550.3 368.5L550.9 367.5ZM709.3 436.5L711.0 436.1L712.0 436.2L712.8 436.5L713.5 437.0L714.0 437.7L714.5 439.5L714.4 441.5L713.5 443.5L712.0 445.3L710.5 446.3L708.5 446.7L707.0 446.4L706.4 446.0L705.6 445.0L705.2 443.5L705.3 441.5L706.1 439.5L707.5 437.7ZM660.9 465.5L662.0 465.1L663.0 465.2L663.5 465.4L664.4 466.5L664.9 468.0L665.0 469.5L664.5 471.5L663.5 473.0L662.5 473.9L661.0 474.3L660.0 473.9L659.2 473.0L658.7 471.5L658.6 470.0L659.0 468.0L659.8 466.5ZM679.6 479.0L681.5 478.6L683.0 479.0L683.8 480.0L684.0 481.0L683.5 483.0L682.5 484.5L681.0 485.8L679.0 486.9L677.5 487.2L676.0 486.9L675.0 486.0L674.8 484.5L675.2 483.0L676.1 481.5L677.7 480.0ZM733.7 503.0L735.0 502.6L736.5 502.9L737.5 503.5L738.3 504.5L738.8 506.0L738.6 507.5L738.0 508.6L736.9 509.5L735.5 510.0L734.5 509.9L733.0 509.0L732.2 508.0L731.7 506.5L731.9 505.0L732.5 504.0ZM775.9 634.0L777.5 633.8L779.5 634.4L781.0 635.5L782.5 637.5L783.7 640.0L784.0 642.0L783.5 643.0L782.6 643.5L781.5 643.7L779.0 643.5L776.5 642.8L774.8 642.0L773.8 641.0L773.3 640.0L773.0 638.5L773.3 636.5L774.2 635.0L775.0 634.4ZM890.3 643.0L893.0 642.7L893.5 642.8L894.0 643.3L894.1 644.5L893.8 646.5L892.6 651.0L891.4 653.5L890.5 654.7L889.5 655.6L888.5 656.1L887.5 656.4L885.5 656.3L883.5 655.4L882.4 654.5L881.7 653.5L881.1 651.5L881.0 650.5L881.4 649.0L882.5 647.0L884.5 645.1L887.0 643.9ZM828.7 645.0L830.0 644.7L831.5 644.6L832.5 644.8L833.5 645.3L834.3 646.0L835.1 647.0L835.7 648.5L836.0 650.0L835.9 651.5L835.6 653.0L834.2 655.5L832.0 657.8L831.0 658.4L829.5 659.0L828.0 659.2L827.0 659.1L826.0 658.8L825.0 658.3L824.2 657.5L823.6 656.5L823.2 655.5L822.9 654.0L823.0 652.5L823.4 651.0L824.6 648.5L826.5 646.3ZM924.0 645.0L925.5 644.8L926.5 645.1L927.4 646.0L927.8 647.0L927.8 648.5L927.5 649.5L926.5 650.8L925.3 651.5L924.0 651.8L922.8 651.5L922.0 650.8L921.4 649.5L921.4 648.5L921.8 647.0L922.5 646.0ZM847.2 654.5L849.0 654.5L850.0 654.8L851.2 655.5L853.0 657.1L854.4 659.5L855.0 662.0L854.9 664.0L854.6 665.0L854.0 666.0L853.5 666.5L852.5 667.1L851.5 667.4L850.5 667.4L848.5 666.7L846.5 665.1L844.9 662.5L844.2 660.0L844.3 657.5L844.6 656.5L845.3 655.5L846.0 655.0ZM736.7 657.0L738.5 656.7L740.0 657.0L741.0 657.6L742.0 658.9L742.3 660.0L742.1 661.5L741.5 662.5L740.0 663.6L738.5 663.9L737.0 663.7L735.7 663.0L734.8 662.0L734.4 660.5L734.6 659.0L735.5 657.7ZM891.8 665.0L894.0 664.8L896.5 665.6L898.0 666.5L899.2 667.5L900.1 668.5L900.7 669.5L900.8 671.0L899.7 673.5L898.2 675.5L896.3 677.0L894.0 677.7L892.5 677.6L891.5 677.4L890.5 676.9L889.5 676.1L888.6 675.0L888.1 674.0L887.6 671.5L887.8 670.0L888.2 668.5L889.0 667.1L890.0 666.0ZM907.9 667.0L909.5 667.0L911.5 667.7L913.0 668.7L917.5 672.1L919.5 673.0L924.7 674.5L925.6 675.0L926.5 675.9L926.8 677.0L926.8 679.0L926.5 681.5L925.9 683.5L924.5 686.5L923.2 688.0L922.0 689.0L920.0 690.0L918.5 690.2L917.5 690.1L915.5 689.3L914.5 688.5L913.8 687.5L912.8 685.5L911.8 680.5L911.0 678.4L909.6 676.5L905.7 672.5L904.9 671.5L904.4 670.5L904.4 669.5L905.0 668.5L906.3 667.5ZM936.0 669.5L937.5 670.0L937.8 670.5L937.9 671.0L937.7 671.5L937.0 672.3L936.0 672.7L935.0 672.9L934.0 672.9L933.1 672.5L932.7 672.0L932.7 671.5L933.4 670.5L934.0 670.0L935.0 669.6ZM915.2 707.0L918.0 706.8L920.5 707.3L922.6 708.5L923.6 710.0L923.8 711.0L923.7 712.5L922.8 714.5L921.0 716.0L918.5 716.9L916.0 717.0L913.5 716.3L911.7 715.0L910.9 714.0L910.5 713.0L910.5 711.0L910.8 710.0L911.5 709.0L913.0 707.8ZM285.7 811.5L289.0 811.2L292.0 811.6L294.5 812.7L296.8 814.5L298.2 816.5L298.6 818.5L298.1 820.5L296.8 822.5L295.5 823.8L294.0 824.8L292.0 825.7L290.0 826.1L287.0 826.3L279.5 825.7L272.5 826.4L269.0 826.5L266.0 826.0L263.0 825.0L261.0 823.7L259.5 822.0L259.1 821.0L258.9 820.0L259.0 819.0L259.3 818.0L260.3 816.5L261.5 815.5L263.0 814.6L266.5 813.4L270.0 813.1L278.5 813.1Z"/>
<path fill="#ffff00" fill-rule="evenodd" d="M709.1 438.0L710.5 437.5L712.0 437.8L713.0 438.9L713.3 440.0L713.1 441.5L712.5 443.0L711.5 444.1L710.0 445.0L709.0 445.2L708.0 445.0L707.0 444.2L706.5 443.0L706.6 441.5L707.2 440.0L708.0 438.9ZM661.4 467.0L662.0 466.8L662.7 467.0L663.3 467.5L663.7 468.5L663.7 469.5L663.5 470.5L663.0 471.5L662.5 472.0L661.5 472.4L661.0 472.3L660.5 471.9L660.0 471.0L659.9 469.5L660.2 468.5L660.8 467.5ZM679.3 480.5L680.5 480.2L681.5 480.3L682.2 481.0L682.3 482.0L682.0 483.0L681.3 484.0L680.1 485.0L679.0 485.5L678.0 485.6L677.0 485.3L676.5 484.5L676.4 484.0L676.7 483.0L677.3 482.0L678.4 481.0ZM734.6 504.5L735.5 504.4L736.0 504.5L736.5 504.9L737.0 505.5L737.1 506.0L737.0 507.0L736.5 507.7L736.0 508.0L735.0 508.1L734.5 507.9L733.7 507.0L733.5 506.5L733.6 505.5L734.0 504.9ZM776.2 636.5L777.0 636.2L778.0 636.2L779.0 636.6L780.1 637.5L781.0 638.9L781.3 640.0L781.0 641.0L780.4 641.5L779.5 641.6L778.0 641.5L776.9 641.0L775.7 640.0L775.3 639.0L775.2 638.0L775.7 637.0ZM888.4 645.0L890.0 645.0L891.2 645.5L891.6 646.0L891.9 647.0L891.8 649.0L891.0 651.4L890.0 653.0L888.5 654.3L887.5 654.6L886.5 654.7L885.0 654.4L883.5 653.2L883.0 652.5L882.7 651.5L882.7 650.0L883.2 648.5L884.5 646.8L886.5 645.6ZM828.6 646.0L830.0 645.6L831.0 645.5L832.0 645.7L833.0 646.2L833.9 647.0L834.5 647.9L835.1 650.0L834.8 652.5L833.9 654.5L832.3 656.5L831.0 657.4L830.0 657.9L828.0 658.3L827.0 658.1L826.0 657.7L825.1 657.0L824.5 656.2L824.0 655.0L823.8 654.0L824.0 651.5L825.0 649.3L826.5 647.4ZM923.7 646.0L924.5 645.7L925.5 645.7L926.5 646.3L926.9 647.0L927.1 648.0L926.9 649.0L926.1 650.0L925.5 650.4L924.0 650.7L923.0 650.2L922.5 649.5L922.3 648.5L922.5 647.5L923.0 646.6ZM847.1 656.0L848.5 655.7L849.5 655.9L850.5 656.3L852.0 657.5L853.3 659.5L853.9 661.5L853.8 663.5L853.0 665.0L852.5 665.5L851.5 665.9L850.0 666.0L848.5 665.3L847.0 664.0L845.8 662.0L845.3 660.0L845.3 658.5L845.9 657.0ZM737.2 659.0L738.5 658.6L739.5 659.0L740.0 659.6L740.1 660.5L740.0 661.0L739.5 661.6L739.0 661.9L738.0 662.0L737.0 661.5L736.5 660.5L736.5 660.0ZM891.9 667.0L893.5 666.6L895.3 667.0L896.9 668.0L898.0 669.5L898.3 671.0L897.9 673.0L896.9 674.5L895.5 675.6L894.0 676.0L893.0 676.0L892.0 675.8L890.5 674.8L889.6 673.5L889.2 671.5L889.5 669.7L890.5 668.0ZM908.3 669.0L909.0 668.8L910.0 668.8L911.5 669.4L913.0 670.4L916.5 673.3L918.0 674.1L922.5 675.7L924.2 677.0L924.8 678.0L925.1 679.0L925.2 680.5L925.0 682.0L924.7 683.5L924.0 685.0L922.5 687.0L920.5 688.4L918.5 688.8L917.5 688.6L916.5 688.3L915.0 687.0L914.4 686.0L913.8 684.5L912.9 679.5L912.2 677.5L911.1 676.0L908.3 673.0L907.4 671.5L907.2 670.5L907.3 670.0L907.6 669.5ZM916.1 709.0L917.5 708.8L918.5 708.9L919.5 709.4L920.1 710.0L920.2 710.5L919.9 711.5L919.0 712.5L918.0 712.9L917.0 713.1L916.0 712.8L915.0 712.1L914.6 711.5L914.5 710.5L914.7 710.0L915.2 709.5ZM285.7 812.5L288.5 812.2L291.2 812.5L293.7 813.5L295.6 815.0L296.8 817.0L297.0 819.0L296.4 821.0L295.0 822.7L294.0 823.5L292.5 824.4L289.5 825.2L286.5 825.2L279.5 824.6L272.0 825.5L269.0 825.5L266.0 825.1L263.5 824.1L262.0 823.0L260.8 821.5L260.4 820.0L260.5 819.0L260.9 818.0L262.0 816.6L263.0 815.8L264.5 815.1L267.5 814.2L270.5 814.0L278.5 814.2L281.0 813.8Z"/>
<path fill="#ffcc00" fill-rule="evenodd" d="M829.6 647.5L831.0 647.5L832.0 647.9L832.5 648.4L833.2 649.5L833.4 651.0L832.9 653.0L832.0 654.5L830.5 655.8L829.0 656.3L827.5 656.2L826.4 655.5L825.6 654.0L825.5 652.5L826.0 650.6L827.0 649.1L828.3 648.0ZM848.8 659.5L849.5 659.4L850.5 660.2L850.8 661.0L850.8 661.5L850.5 662.1L850.0 662.3L849.5 662.2L848.7 661.5L848.4 660.5L848.5 659.8ZM917.0 678.5L918.0 678.1L919.5 678.2L920.5 678.6L921.5 679.5L922.0 680.5L922.2 682.0L921.8 683.5L921.0 684.6L920.0 685.4L919.0 685.6L918.0 685.4L916.8 684.5L916.2 683.0L916.0 681.5L916.3 679.5ZM285.8 814.5L288.0 814.2L290.0 814.3L292.0 815.0L293.2 816.0L294.2 817.5L294.3 819.0L293.8 820.5L292.4 822.0L290.5 823.0L288.5 823.3L286.0 823.2L281.5 822.4L279.5 822.2L278.0 822.3L272.0 823.6L269.5 823.7L267.5 823.4L266.0 822.9L264.5 821.9L263.8 821.0L263.5 819.5L264.2 818.0L265.4 817.0L267.5 816.2L270.0 815.8L272.5 815.9L277.0 816.6L279.0 816.6L281.0 816.2Z"/>
<path fill="#ff6600" fill-rule="evenodd" d="M829.2 650.0L830.0 649.9L830.5 650.0L831.0 650.5L831.2 651.0L831.0 652.5L830.0 653.6L829.0 653.9L828.5 653.9L828.0 653.5L827.7 653.0L827.6 652.0L828.0 651.0L828.5 650.4ZM286.5 817.0L288.0 816.7L289.0 816.8L289.7 817.0L290.5 817.6L290.9 818.5L290.7 819.5L290.0 820.2L289.0 820.7L288.0 820.8L286.5 820.6L285.1 820.0L284.7 819.5L284.5 819.0L284.9 818.0ZM268.7 819.0L269.5 818.7L270.5 818.6L272.0 818.9L272.7 819.5L272.7 820.0L272.2 820.5L270.5 821.0L269.0 820.7L268.6 820.5L268.2 820.0L268.2 819.5Z"/>
</g>
<g class="grid" clip-path="url(#plot)">
<path d="M261.90 124.40H937.50" stroke-dasharray="2.2 7.618"/>
<path d="M261.90 191.74H937.50" stroke-dasharray="2.2 7.618"/>
<path d="M261.90 259.09H937.50" stroke-dasharray="2.2 7.618"/>
<path d="M261.90 326.43H937.50" stroke-dasharray="2.2 7.618"/>
<path d="M261.90 393.78H937.50" stroke-dasharray="2.2 7.618"/>
<path d="M261.90 461.12H937.50" stroke-dasharray="2.2 7.618"/>
<path d="M261.90 528.47H937.50" stroke-dasharray="2.2 7.618"/>
<path d="M261.90 595.82H937.50" stroke-dasharray="2.2 7.618"/>
<path d="M261.90 663.16H937.50" stroke-dasharray="2.2 7.618"/>
<path d="M261.90 730.51H937.50" stroke-dasharray="2.2 7.618"/>
<path d="M261.90 797.85H937.50" stroke-dasharray="2.2 7.618"/>
<path d="M301.07 821.40V79.50" stroke-dasharray="2.2 7.329"/>
<path d="M358.93 821.40V79.50" stroke-dasharray="2.2 7.329"/>
<path d="M416.79 821.40V79.50" stroke-dasharray="2.2 7.329"/>
<path d="M474.64 821.40V79.50" stroke-dasharray="2.2 7.329"/>
<path d="M532.50 821.40V79.50" stroke-dasharray="2.2 7.329"/>
<path d="M590.36 821.40V79.50" stroke-dasharray="2.2 7.329"/>
<path d="M648.21 821.40V79.50" stroke-dasharray="2.2 7.329"/>
<path d="M706.07 821.40V79.50" stroke-dasharray="2.2 7.329"/>
<path d="M763.93 821.40V79.50" stroke-dasharray="2.2 7.329"/>
<path d="M821.79 821.40V79.50" stroke-dasharray="2.2 7.329"/>
<path d="M879.64 821.40V79.50" stroke-dasharray="2.2 7.329"/>
</g>
<g class="coast" clip-path="url(#plot)">
<path d="M278.0 79.4L288.0 95.0L295.6 101.6L301.0 112.0L304.0 122.0L322.4 129.4L326.0 139.4L318.0 135.6L311.0 141.6L317.0 148.0L322.6 155.6L317.6 163.4L307.4 161.4L298.6 165.4L291.6 159.8L278.0 171.4L295.0 179.4L308.6 191.4L319.0 189.4L325.6 195.6L327.4 207.0L327.4 222.0L324.4 233.4L332.6 229.6L329.4 239.4L321.3 243.0L313.7 249.4L303.7 251.7L300.3 261.2L305.3 271.3L300.5 279.2L293.8 284.7L288.3 293.3L293.7 301.7L291.7 313.3L293.7 326.2L299.2 334.2L305.3 353.3L330.8 393.3L348.0 401.2L359.2 401.2L380.8 405.3L389.2 408.8L403.3 421.2L428.7 460.8L437.5 465.0L444.2 445.3L452.8 441.2L454.5 429.5L464.7 431.3L475.0 415.8L481.7 409.5L472.0 411.7L468.7 399.5L468.3 385.0L456.3 385.0L449.2 379.3L439.2 377.2L430.4 373.2L420.4 357.5L411.7 351.5L406.3 315.0L399.2 309.2L406.7 313.3L407.5 316.2L416.7 331.2L425.5 335.3L435.5 333.3L440.8 341.2L451.0 343.3L456.3 351.0L464.7 355.5L470.0 363.3L478.3 369.2L487.5 373.3L497.5 375.5L488.8 379.5L499.2 377.5L505.8 383.3L507.8 395.2L514.7 401.3L524.7 417.0L524.7 431.7L519.5 439.2L518.0 451.3L524.2 457.0L529.5 465.0L535.8 470.8L543.8 479.5L553.3 477.0L563.3 478.8L573.0 483.3L590.8 486.7L610.3 494.7L620.8 511.2L630.8 513.0L658.4 524.8L671.7 536.7L677.5 545.0L684.7 548.3L692.2 555.0L697.5 562.5L704.7 568.8L709.7 578.8L716.7 585.0L722.5 594.2L725.5 603.0L721.7 613.3L723.3 624.2L728.8 632.8L722.3 638.0L716.7 646.5L727.2 644.7L718.7 648.5L716.7 660.8L703.0 673.7L699.5 683.0L708.3 696.7L723.7 710.8L728.8 718.8L737.5 722.5L749.2 720.5L783.7 736.3L788.8 729.2L788.8 713.3L785.5 704.5L780.0 696.7L763.3 689.2L757.0 678.3L751.3 660.5L773.0 656.5L783.7 673.0L800.8 680.8L810.8 683.0L818.0 688.3L805.8 688.8L810.8 697.2L821.3 698.3L812.8 702.5L818.0 711.7L821.3 722.5L816.0 730.2L814.4 742.7L827.5 754.2L838.0 760.3L843.7 766.7L854.4 780.6L860.3 797.8L860.3 814.5L867.5 814.5L869.5 802.2L866.3 792.8L865.6 779.2L867.3 767.2L872.2 758.9L890.0 750.5L900.5 748.7L920.0 752.8L930.0 757.0L937.5 758.4"/>
<path d="M322.4 129.4L324.0 122.0L327.0 116.0L331.4 110.6L334.6 101.4L344.4 99.6L359.0 112.0L368.0 116.0L387.4 119.6L473.0 159.6L481.4 155.6L495.6 144.0L504.0 140.0L511.6 133.4L519.4 129.6L526.4 135.4L538.4 135.4L545.6 142.0L553.6 145.6L561.0 153.6L569.4 157.4L579.4 147.6L583.0 157.0L588.2 165.6L605.4 173.4L608.6 183.0L610.4 195.4L622.6 195.4L631.2 199.4L639.6 195.4L648.0 199.4L662.0 211.6L671.6 209.6L681.0 205.4L689.4 199.5L699.7 197.5L707.5 193.7L715.0 187.8L711.7 163.3"/>
<path d="M326.0 79.4L333.0 86.0L349.6 94.0L355.6 102.0L373.0 110.0L392.0 113.4L401.6 117.6L408.4 123.6L418.0 125.6L430.0 125.6L440.0 127.6L457.6 135.4L470.0 135.4L478.4 139.6L488.5 137.6L495.6 131.6L499.0 122.0L497.5 110.0L499.0 97.0L495.6 87.0L490.7 79.4"/>
<path d="M449.8 101.4L451.6 101.4L456.2 109.6L447.6 113.4L449.8 101.4"/>
<path d="M422.0 343.3L432.2 345.5L437.3 353.3L427.5 355.4L420.5 349.4L422.0 343.3"/>
<path d="M673.6 79.4L675.0 92.0L677.6 108.0L684.0 125.0L690.0 137.6L699.8 153.3L702.9 163.6L713.3 161.7L716.7 163.8L722.0 172.0L725.8 183.3L728.8 191.7L723.7 183.8L723.7 198.3L720.2 207.5L728.7 203.7L733.7 211.7L735.8 225.0L742.0 243.3L747.5 251.7L750.8 261.7L756.3 269.7L759.7 279.3L785.0 319.2L792.8 325.8L817.5 365.0L824.7 371.2L835.0 369.2L838.7 379.2L869.2 426.7L878.0 431.2L880.8 440.0L886.7 449.2L895.0 453.0L915.5 457.2L920.8 465.5L937.5 478.3"/>
<path d="M925.8 469.2L920.8 470.8L917.5 480.8L908.7 485.0L895.0 472.8L890.5 465.0L881.3 461.2L871.7 463.0L865.8 471.3L872.8 482.8L872.8 485.3L867.5 485.3L859.2 489.2L854.0 497.2L854.0 581.7L863.3 584.5L873.3 588.7L881.3 597.0L889.2 600.8L895.0 609.2L892.0 618.3L885.0 624.7L867.5 632.5L864.2 643.0L857.3 648.6L860.5 657.2L871.7 675.0L874.7 696.7L874.7 712.5L869.2 721.3L862.5 726.3L852.2 728.5L844.6 738.5L831.8 746.3L842.5 760.0L853.9 764.6L855.0 775.0L862.5 797.5L862.5 812.5"/>
</g>
<rect x="262.5" y="79.5" width="675" height="740.8" fill="none" stroke="#000" stroke-width="1.9"/>
<path d="M262.50 124.40h-5.6M262.50 191.74h-5.6M262.50 259.09h-5.6M262.50 326.43h-5.6M262.50 393.78h-5.6M262.50 461.12h-5.6M262.50 528.47h-5.6M262.50 595.82h-5.6M262.50 663.16h-5.6M262.50 730.51h-5.6M262.50 797.85h-5.6M301.07 820.30v5.4M358.93 820.30v5.4M416.79 820.30v5.4M474.64 820.30v5.4M532.50 820.30v5.4M590.36 820.30v5.4M648.21 820.30v5.4M706.07 820.30v5.4M763.93 820.30v5.4M821.79 820.30v5.4M879.64 820.30v5.4" fill="none" stroke="#000" stroke-width="1.3"/>
<text class="ax" y="130.40" x="209.8 218.7 228.1 231.9 243.4">11.1<tspan textLength="8.8" lengthAdjust="spacingAndGlyphs">N</tspan></text>
<text class="ax" y="197.74" x="209.8 218.7 228.1 231.9 243.4">10.8<tspan textLength="8.8" lengthAdjust="spacingAndGlyphs">N</tspan></text>
<text class="ax" y="265.09" x="209.8 218.7 228.1 231.9 243.4">10.5<tspan textLength="8.8" lengthAdjust="spacingAndGlyphs">N</tspan></text>
<text class="ax" y="332.43" x="209.8 218.7 228.1 231.9 243.4">10.2<tspan textLength="8.8" lengthAdjust="spacingAndGlyphs">N</tspan></text>
<text class="ax" y="399.78" x="218.5 227.9 231.9 243.4">9.9<tspan textLength="8.8" lengthAdjust="spacingAndGlyphs">N</tspan></text>
<text class="ax" y="467.12" x="218.5 227.9 231.9 243.4">9.6<tspan textLength="8.8" lengthAdjust="spacingAndGlyphs">N</tspan></text>
<text class="ax" y="534.47" x="218.5 227.9 231.9 243.4">9.3<tspan textLength="8.8" lengthAdjust="spacingAndGlyphs">N</tspan></text>
<text class="ax" y="601.82" x="232.2 243.6">9<tspan textLength="8.8" lengthAdjust="spacingAndGlyphs">N</tspan></text>
<text class="ax" y="669.16" x="218.5 227.9 231.9 243.4">8.7<tspan textLength="8.8" lengthAdjust="spacingAndGlyphs">N</tspan></text>
<text class="ax" y="736.51" x="218.5 227.9 231.9 243.4">8.4<tspan textLength="8.8" lengthAdjust="spacingAndGlyphs">N</tspan></text>
<text class="ax" y="803.85" x="218.5 227.9 231.9 243.4">8.1<tspan textLength="8.8" lengthAdjust="spacingAndGlyphs">N</tspan></text>
<text class="ax" y="840.80" x="278.5 287.8 296.9 302.2 312.0">85.8<tspan textLength="10.6" lengthAdjust="spacingAndGlyphs">W</tspan></text>
<text class="ax" y="840.80" x="336.3 345.6 354.7 360.0 369.8">85.5<tspan textLength="10.6" lengthAdjust="spacingAndGlyphs">W</tspan></text>
<text class="ax" y="840.80" x="394.2 403.5 412.6 417.9 427.7">85.2<tspan textLength="10.6" lengthAdjust="spacingAndGlyphs">W</tspan></text>
<text class="ax" y="840.80" x="452.1 461.4 470.5 475.8 485.5">84.9<tspan textLength="10.6" lengthAdjust="spacingAndGlyphs">W</tspan></text>
<text class="ax" y="840.80" x="509.9 519.2 528.3 533.6 543.4">84.6<tspan textLength="10.6" lengthAdjust="spacingAndGlyphs">W</tspan></text>
<text class="ax" y="840.80" x="567.8 577.1 586.2 591.5 601.3">84.3<tspan textLength="10.6" lengthAdjust="spacingAndGlyphs">W</tspan></text>
<text class="ax" y="840.80" x="632.7 642.4 652.7">84<tspan textLength="10.6" lengthAdjust="spacingAndGlyphs">W</tspan></text>
<text class="ax" y="840.80" x="683.5 692.8 701.9 707.2 717.0">83.7<tspan textLength="10.6" lengthAdjust="spacingAndGlyphs">W</tspan></text>
<text class="ax" y="840.80" x="741.3 750.6 759.7 765.0 774.8">83.4<tspan textLength="10.6" lengthAdjust="spacingAndGlyphs">W</tspan></text>
<text class="ax" y="840.80" x="799.2 808.5 817.6 822.9 832.7">83.1<tspan textLength="10.6" lengthAdjust="spacingAndGlyphs">W</tspan></text>
<text class="ax" y="840.80" x="857.1 866.4 875.5 880.8 890.5">82.8<tspan textLength="10.6" lengthAdjust="spacingAndGlyphs">W</tspan></text>
<text class="t1" transform="scale(0.74,1)" style="stroke-width:0.7px" y="31 31 31 37.2 31 31 31 31 31 31 31 31 31 28.4 31" x="177.2 188.1 219.8 250.0 276.0 300.5 324.0 350.8 378.0 401.6 411.4 439.1 468.8 477.3 504.9">IMN<tspan style="font-size:52px;stroke-width:2.2px" rotate="14">/</tspan>SARAPIQUI<tspan style="font-size:46.9px;stroke-width:1.5px">_</tspan><tspan style="stroke-width:1.25px" textLength="24.5" lengthAdjust="spacingAndGlyphs">5</tspan></text>
<text class="t1" transform="scale(0.87,1)" y="31.00" x="470.2 494.8 508.5 528.7 547.8 556.8 577.5 588.7 599.9 620.9 640.1 649.8 670.4">Precipitacion</text>
<text class="t1" transform="scale(0.87,1)" y="31.00" x="708.1 729.8 749.8 772.0 804.4 824.6 832.9 854.8 874.4">Acumulada</text>
<text class="t1" transform="scale(0.87,1)" y="31.00" x="915.6 936.6">en</text>
<text class="t1" transform="scale(0.92,1)" y="31.00" x="923.5">6</text>
<text class="t1" transform="scale(0.87,1)" y="31.00" x="1018.1 1039.5 1061.5 1073.2 1095.1">horas</text>
<text class="t1" transform="scale(0.87,1)" y="31.00" x="1133.6 1149.6 1182.2 1216.1">(mm)</text>
<text class="t1" transform="scale(0.92,1)" y="62.2 62.2 62.2 62.2 76 62.2 62.2 76 62.2 62.2" x="502.4 524.0 542.3 564.7 583.1 612.8 632.9 650.8 680.0 700.8">2019<tspan style="font-size:92px;stroke-width:5.3px">-</tspan>09<tspan style="font-size:92px;stroke-width:5.3px">-</tspan>30</text>
<text class="t1" transform="scale(0.86,1)" y="62.20" x="792.9 813.6 836.7">21Z</text>
<text class="ft" y="876.70" x="326.9 334.9 350.7 365.3 374.0 381.8 390.5 407.5 416.5">Instituto</text>
<text class="ft" y="876.70" x="444.6 466.1 482.5 491.1 505.0 520.6 531.2 546.5 554.0 569.8 584.0 590.7 605.9">Meteorologico</text>
<text class="ft" y="876.70" x="635.2 653.5 669.0 683.6 690.7 706.4 721.4 737.0">Nacional</text>
<text class="ft" y="876.70" x="757.8 776.5 791.7 806.7 815.0">Costa</text>
<text class="ft" y="876.70" x="843.5 862.0 868.5 883.0">Rica</text>
<g stroke="#000" stroke-width="1.15" stroke-linejoin="miter">
<path d="M1058.10 132.10L1068.85 89.60L1079.60 132.10Z" fill="#aaaaaa"/>
<rect x="1058.10" y="132.10" width="21.50" height="42.37" fill="#f4f4f4"/>
<rect x="1058.10" y="174.47" width="21.50" height="42.37" fill="#9932cc"/>
<rect x="1058.10" y="216.83" width="21.50" height="42.37" fill="#ff00ff"/>
<rect x="1058.10" y="259.20" width="21.50" height="42.37" fill="#990000"/>
<rect x="1058.10" y="301.57" width="21.50" height="42.37" fill="#cc3300"/>
<rect x="1058.10" y="343.93" width="21.50" height="42.37" fill="#ff0000"/>
<rect x="1058.10" y="386.30" width="21.50" height="42.37" fill="#ff6600"/>
<rect x="1058.10" y="428.67" width="21.50" height="42.37" fill="#ffcc00"/>
<rect x="1058.10" y="471.03" width="21.50" height="42.37" fill="#ffff00"/>
<rect x="1058.10" y="513.40" width="21.50" height="42.37" fill="#009200"/>
<rect x="1058.10" y="555.77" width="21.50" height="42.37" fill="#00c800"/>
<rect x="1058.10" y="598.13" width="21.50" height="42.37" fill="#00ff00"/>
<rect x="1058.10" y="640.50" width="21.50" height="42.37" fill="#0000ff"/>
<rect x="1058.10" y="682.87" width="21.50" height="42.37" fill="#3399ff"/>
<rect x="1058.10" y="725.23" width="21.50" height="42.37" fill="#66ffff"/>
<path d="M1058.10 767.60L1068.85 810.40L1079.60 767.60Z" fill="#fff"/>
</g>
<text class="cb" x="1085.50" y="139.55" textLength="39.82" lengthAdjust="spacingAndGlyphs">200</text>
<text class="cb" x="1085.50" y="181.92" textLength="39.82" lengthAdjust="spacingAndGlyphs">150</text>
<text class="cb" x="1085.50" y="224.28" textLength="39.82" lengthAdjust="spacingAndGlyphs">120</text>
<text class="cb" x="1085.50" y="266.65" textLength="39.82" lengthAdjust="spacingAndGlyphs">100</text>
<text class="cb" x="1085.50" y="309.02" textLength="26.55" lengthAdjust="spacingAndGlyphs">90</text>
<text class="cb" x="1085.50" y="351.38" textLength="26.55" lengthAdjust="spacingAndGlyphs">75</text>
<text class="cb" x="1085.50" y="393.75" textLength="26.55" lengthAdjust="spacingAndGlyphs">60</text>
<text class="cb" x="1085.50" y="436.12" textLength="26.55" lengthAdjust="spacingAndGlyphs">50</text>
<text class="cb" x="1085.50" y="478.48" textLength="26.55" lengthAdjust="spacingAndGlyphs">40</text>
<text class="cb" x="1085.50" y="520.85" textLength="26.55" lengthAdjust="spacingAndGlyphs">30</text>
<text class="cb" x="1085.50" y="563.22" textLength="26.55" lengthAdjust="spacingAndGlyphs">25</text>
<text class="cb" x="1085.50" y="605.58" textLength="26.55" lengthAdjust="spacingAndGlyphs">20</text>
<text class="cb" x="1085.50" y="647.95" textLength="26.55" lengthAdjust="spacingAndGlyphs">15</text>
<text class="cb" x="1085.50" y="690.32" textLength="44.47" lengthAdjust="spacingAndGlyphs">12.5</text>
<text class="cb" x="1085.50" y="732.68" textLength="13.27" lengthAdjust="spacingAndGlyphs">7</text>
<text class="cb" x="1085.50" y="775.05" textLength="31.76" lengthAdjust="spacingAndGlyphs">3.5</text>
</svg></body></html>
